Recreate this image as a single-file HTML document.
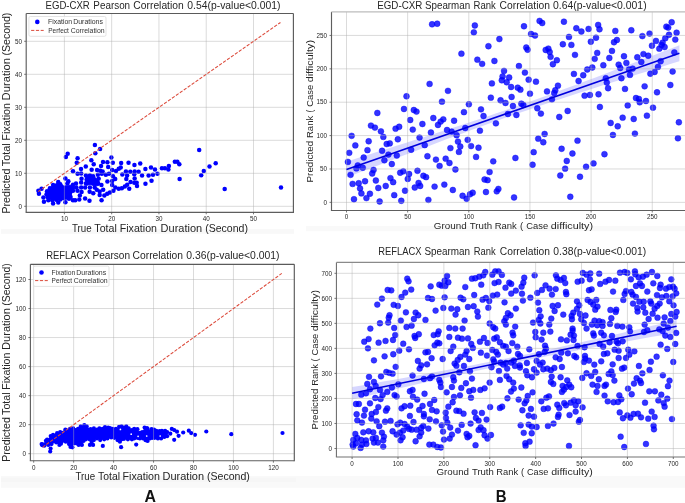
<!DOCTYPE html>
<html><head><meta charset="utf-8"><style>
html,body{margin:0;padding:0;background:#fff;width:685px;height:503px;overflow:hidden}
svg{will-change:transform}
svg text{font-family:"Liberation Sans", sans-serif}
</style></head><body>
<svg width="685" height="503" viewBox="0 0 685 503" style="display:block">
<rect width="685" height="503" fill="#fff"/>
<rect x="1" y="229.2" width="293" height="4.6" fill="#f8f8f8"/>
<rect x="306" y="226" width="379" height="5.2" fill="#f9f9f9"/>
<rect x="1" y="476" width="684" height="11.8" fill="#f9f9f9"/>
<rect x="1" y="477.7" width="295" height="4.3" fill="#f6f6f6"/>
<g>
<rect x="26.2" y="13.5" width="267.2" height="198.8" fill="#fff"/>
</g>
<g>
<rect x="30.4" y="264.3" width="263.9" height="196.4" fill="#fff"/>
</g>
<g>
<rect x="331.5" y="11.9" width="358.5" height="198.6" fill="#fff"/>
</g>
<g>
<rect x="336.45" y="262.4" width="353.55" height="194.6" fill="#fff"/>
</g>
<polygon points="346.5,161.5 354.82,158.91 363.15,156.3 371.47,153.7 379.79,151.09 388.11,148.47 396.44,145.85 404.76,143.22 413.08,140.58 421.4,137.93 429.73,135.27 438.05,132.59 446.37,129.91 454.69,127.2 463.02,124.48 471.34,121.73 479.66,118.96 487.98,116.16 496.31,113.34 504.63,110.48 512.95,107.59 521.27,104.67 529.6,101.71 537.92,98.73 546.24,95.71 554.56,92.67 562.89,89.61 571.21,86.52 579.53,83.41 587.85,80.29 596.18,77.15 604.5,74 612.82,70.84 621.14,67.67 629.47,64.49 637.79,61.3 646.11,58.1 654.43,54.9 662.76,51.7 671.08,48.49 679.4,45.27 679.4,61.27 671.08,63.87 662.76,66.47 654.43,69.08 646.11,71.69 637.79,74.31 629.47,76.93 621.14,79.56 612.82,82.2 604.5,84.85 596.18,87.51 587.85,90.19 579.53,92.87 571.21,95.58 562.89,98.3 554.56,101.05 546.24,103.82 537.92,106.62 529.6,109.44 521.27,112.3 512.95,115.19 504.63,118.11 496.31,121.07 487.98,124.05 479.66,127.06 471.34,130.11 463.02,133.17 454.69,136.26 446.37,139.36 438.05,142.49 429.73,145.63 421.4,148.78 413.08,151.94 404.76,155.11 396.44,158.29 388.11,161.48 379.79,164.68 371.47,167.88 363.15,171.08 354.82,174.29 346.5,177.5" fill="#0000ff" fill-opacity="0.16"/>
<polygon points="352.1,387.11 360.21,385.67 368.33,384.23 376.44,382.78 384.55,381.33 392.66,379.88 400.78,378.42 408.89,376.96 417,375.48 425.11,374 433.23,372.52 441.34,371.02 449.45,369.51 457.56,367.98 465.68,366.45 473.79,364.89 481.9,363.32 490.01,361.73 498.13,360.11 506.24,358.47 514.35,356.81 522.47,355.12 530.58,353.41 538.69,351.68 546.8,349.92 554.92,348.14 563.03,346.35 571.14,344.53 579.25,342.71 587.37,340.87 595.48,339.01 603.59,337.15 611.7,335.28 619.82,333.4 627.93,331.52 636.04,329.63 644.16,327.73 652.27,325.83 660.38,323.93 668.49,322.02 676.61,320.11 676.61,332.51 668.49,333.95 660.38,335.39 652.27,336.84 644.16,338.29 636.04,339.74 627.93,341.2 619.82,342.66 611.7,344.14 603.59,345.62 595.48,347.1 587.37,348.6 579.25,350.11 571.14,351.63 563.03,353.17 554.92,354.73 546.8,356.3 538.69,357.89 530.58,359.51 522.47,361.15 514.35,362.81 506.24,364.5 498.13,366.21 490.01,367.94 481.9,369.7 473.79,371.48 465.68,373.27 457.56,375.09 449.45,376.91 441.34,378.75 433.23,380.61 425.11,382.47 417,384.34 408.89,386.22 400.78,388.1 392.66,389.99 384.55,391.89 376.44,393.79 368.33,395.69 360.21,397.6 352.1,399.51" fill="#0000ff" fill-opacity="0.16"/>
<g fill="#0000ff" fill-opacity="1"><circle cx="65.41" cy="178.59" r="2.25"/><circle cx="58.25" cy="181.93" r="2.25"/><circle cx="68.35" cy="181.13" r="2.25"/><circle cx="53.09" cy="185.11" r="2.25"/><circle cx="60.24" cy="184.31" r="2.25"/><circle cx="67.4" cy="183.52" r="2.25"/><circle cx="72.97" cy="184.71" r="2.25"/><circle cx="49.9" cy="188.29" r="2.25"/><circle cx="54.68" cy="187.5" r="2.25"/><circle cx="58.65" cy="186.7" r="2.25"/><circle cx="61.83" cy="186.7" r="2.25"/><circle cx="65.81" cy="187.5" r="2.25"/><circle cx="69.79" cy="187.5" r="2.25"/><circle cx="72.97" cy="187.5" r="2.25"/><circle cx="38.37" cy="190.83" r="2.25"/><circle cx="41.55" cy="188.69" r="2.25"/><circle cx="47.04" cy="191.31" r="2.25"/><circle cx="49.9" cy="191.47" r="2.25"/><circle cx="53.88" cy="190.68" r="2.25"/><circle cx="57.86" cy="190.68" r="2.25"/><circle cx="61.83" cy="190.68" r="2.25"/><circle cx="65.81" cy="190.68" r="2.25"/><circle cx="69.79" cy="190.68" r="2.25"/><circle cx="72.97" cy="190.68" r="2.25"/><circle cx="38.93" cy="193.86" r="2.25"/><circle cx="46.56" cy="194.25" r="2.25"/><circle cx="49.11" cy="193.86" r="2.25"/><circle cx="53.09" cy="193.86" r="2.25"/><circle cx="57.06" cy="193.86" r="2.25"/><circle cx="61.04" cy="193.86" r="2.25"/><circle cx="65.81" cy="194.65" r="2.25"/><circle cx="69.79" cy="193.86" r="2.25"/><circle cx="43.38" cy="197.44" r="2.25"/><circle cx="47.52" cy="197.04" r="2.25"/><circle cx="51.5" cy="197.04" r="2.25"/><circle cx="55.47" cy="197.04" r="2.25"/><circle cx="59.45" cy="197.04" r="2.25"/><circle cx="63.42" cy="197.04" r="2.25"/><circle cx="67.4" cy="197.04" r="2.25"/><circle cx="70.58" cy="197.04" r="2.25"/><circle cx="48.31" cy="200.22" r="2.25"/><circle cx="52.29" cy="200.22" r="2.25"/><circle cx="56.27" cy="199.82" r="2.25"/><circle cx="60.24" cy="199.42" r="2.25"/><circle cx="68.99" cy="198.63" r="2.25"/><circle cx="72.97" cy="200.22" r="2.25"/><circle cx="43.94" cy="201.81" r="2.25"/><circle cx="53.09" cy="203.4" r="2.25"/><circle cx="58.25" cy="202.6" r="2.25"/><circle cx="65.41" cy="202.21" r="2.25"/><circle cx="77.58" cy="158.35" r="2.25"/><circle cx="76.78" cy="162.72" r="2.25"/><circle cx="95.31" cy="153.34" r="2.25"/><circle cx="91.34" cy="160.18" r="2.25"/><circle cx="93.72" cy="164.31" r="2.25"/><circle cx="85.77" cy="166.54" r="2.25"/><circle cx="81" cy="168.93" r="2.25"/><circle cx="91.65" cy="169.72" r="2.25"/><circle cx="103.03" cy="161.93" r="2.25"/><circle cx="107.4" cy="162.33" r="2.25"/><circle cx="111.38" cy="157.55" r="2.25"/><circle cx="101.04" cy="165.9" r="2.25"/><circle cx="108.19" cy="167.1" r="2.25"/><circle cx="97.06" cy="169.88" r="2.25"/><circle cx="100.24" cy="170.68" r="2.25"/><circle cx="102.63" cy="171.47" r="2.25"/><circle cx="112.17" cy="169.88" r="2.25"/><circle cx="77.58" cy="173.86" r="2.25"/><circle cx="81.16" cy="173.46" r="2.25"/><circle cx="85.93" cy="175.45" r="2.25"/><circle cx="89.9" cy="175.45" r="2.25"/><circle cx="93.09" cy="176.24" r="2.25"/><circle cx="97.86" cy="174.65" r="2.25"/><circle cx="101.83" cy="173.86" r="2.25"/><circle cx="105.81" cy="174.65" r="2.25"/><circle cx="108.99" cy="173.86" r="2.25"/><circle cx="112.97" cy="176.24" r="2.25"/><circle cx="81.55" cy="178.63" r="2.25"/><circle cx="86.72" cy="179.42" r="2.25"/><circle cx="90.7" cy="178.63" r="2.25"/><circle cx="94.68" cy="179.42" r="2.25"/><circle cx="98.65" cy="178.63" r="2.25"/><circle cx="75.99" cy="183.4" r="2.25"/><circle cx="81.16" cy="182.6" r="2.25"/><circle cx="85.93" cy="183.4" r="2.25"/><circle cx="89.9" cy="182.6" r="2.25"/><circle cx="93.88" cy="183.4" r="2.25"/><circle cx="97.86" cy="183.4" r="2.25"/><circle cx="101.44" cy="184.99" r="2.25"/><circle cx="107.4" cy="181.41" r="2.25"/><circle cx="112.17" cy="181.01" r="2.25"/><circle cx="76.39" cy="187.38" r="2.25"/><circle cx="81.16" cy="187.38" r="2.25"/><circle cx="85.13" cy="187.38" r="2.25"/><circle cx="89.9" cy="187.38" r="2.25"/><circle cx="94.68" cy="187.38" r="2.25"/><circle cx="112.17" cy="184.99" r="2.25"/><circle cx="77.5" cy="190.84" r="2.25"/><circle cx="81.59" cy="192.01" r="2.25"/><circle cx="79.84" cy="195.51" r="2.25"/><circle cx="75.17" cy="200.18" r="2.25"/><circle cx="79.26" cy="199.6" r="2.25"/><circle cx="85.09" cy="198.43" r="2.25"/><circle cx="89.47" cy="200.77" r="2.25"/><circle cx="89.65" cy="191.72" r="2.25"/><circle cx="93.27" cy="193.18" r="2.25"/><circle cx="96.77" cy="189.67" r="2.25"/><circle cx="99.69" cy="191.42" r="2.25"/><circle cx="103.2" cy="189.67" r="2.25"/><circle cx="99.69" cy="194.93" r="2.25"/><circle cx="104.36" cy="195.51" r="2.25"/><circle cx="107.28" cy="193.76" r="2.25"/><circle cx="109.91" cy="192.59" r="2.25"/><circle cx="113.42" cy="190.84" r="2.25"/><circle cx="101.56" cy="200.3" r="2.25"/><circle cx="112.8" cy="162.66" r="2.25"/><circle cx="121.15" cy="162.9" r="2.25"/><circle cx="128.54" cy="162.66" r="2.25"/><circle cx="134.43" cy="165.05" r="2.25"/><circle cx="140.23" cy="163.46" r="2.25"/><circle cx="145.4" cy="169.03" r="2.25"/><circle cx="150.97" cy="167.44" r="2.25"/><circle cx="120.75" cy="167.44" r="2.25"/><circle cx="118.76" cy="168.63" r="2.25"/><circle cx="115.98" cy="171.01" r="2.25"/><circle cx="125.92" cy="171.41" r="2.25"/><circle cx="130.29" cy="171.81" r="2.25"/><circle cx="134.66" cy="171.41" r="2.25"/><circle cx="138.64" cy="171.81" r="2.25"/><circle cx="122.34" cy="174.59" r="2.25"/><circle cx="127.11" cy="175.39" r="2.25"/><circle cx="134.27" cy="174.19" r="2.25"/><circle cx="142.06" cy="175.39" r="2.25"/><circle cx="148.58" cy="175.39" r="2.25"/><circle cx="115.18" cy="178.97" r="2.25"/><circle cx="126.31" cy="178.97" r="2.25"/><circle cx="134.66" cy="178.57" r="2.25"/><circle cx="115.38" cy="187.46" r="2.25"/><circle cx="118.76" cy="188.81" r="2.25"/><circle cx="121.8" cy="188.14" r="2.25"/><circle cx="124.84" cy="186.45" r="2.25"/><circle cx="127.2" cy="184.76" r="2.25"/><circle cx="129.23" cy="188.81" r="2.25"/><circle cx="130.58" cy="182.05" r="2.25"/><circle cx="134.3" cy="182.73" r="2.25"/><circle cx="136.66" cy="182.73" r="2.25"/><circle cx="137" cy="186.11" r="2.25"/><circle cx="145.45" cy="183.74" r="2.25"/><circle cx="151.53" cy="180.7" r="2.25"/><circle cx="154.97" cy="169.62" r="2.25"/><circle cx="157.46" cy="173.8" r="2.25"/><circle cx="152.98" cy="174.79" r="2.25"/><circle cx="161.93" cy="168.33" r="2.25"/><circle cx="164.91" cy="168.33" r="2.25"/><circle cx="168.89" cy="166.04" r="2.25"/><circle cx="168.39" cy="169.62" r="2.25"/><circle cx="174.85" cy="161.67" r="2.25"/><circle cx="177.34" cy="161.67" r="2.25"/><circle cx="179.32" cy="164.35" r="2.25"/><circle cx="179.62" cy="178.97" r="2.25"/><circle cx="199.2" cy="149.9" r="2.25"/><circle cx="215.7" cy="163.3" r="2.25"/><circle cx="209.5" cy="166.6" r="2.25"/><circle cx="203.8" cy="171" r="2.25"/><circle cx="201.2" cy="175.3" r="2.25"/><circle cx="224.7" cy="188.9" r="2.25"/><circle cx="281" cy="187.4" r="2.25"/><circle cx="94.9" cy="144.9" r="2.25"/><circle cx="100.1" cy="148.9" r="2.25"/><circle cx="67.7" cy="153.7" r="2.25"/><circle cx="65.9" cy="157.1" r="2.25"/><circle cx="73" cy="171.2" r="2.25"/></g>
<polygon points="46.5,192 49.3,187.8 52.8,185.4 57.5,182.5 61.6,184.3 63.9,186.6 68,185.4 72.1,184.9 73.9,188.4 71.5,194.2 69.2,198.9 63.4,200 57.5,200 51.7,200 47,198.9 46.5,195.4" fill="#0000ff" stroke="#0000ff" stroke-width="0.6" stroke-linejoin="round"/>
<polygon points="85.5,176 88.7,175.5 92.5,176 95.5,178 97.5,179.5 99.5,181.5 100.2,184 98.5,185.5 95.5,186 93,185.5 90,184.5 86.5,185.5 85.2,184 85.3,180" fill="#0000ff" stroke="#0000ff" stroke-width="0.6" stroke-linejoin="round"/>
<polygon points="42.2,445.2 42.7,444.3 45.9,440.8 47.1,439.6 50.7,436 53.1,434.8 57.1,433.2 60.2,432 65.4,429.6 69,430.4 70,428.8 73.2,428.4 75.6,430 78,428.8 80.7,426.4 84.3,425.2 86.7,426.4 88.3,429.6 90.7,429.2 93.9,428.4 97,429.6 99.4,428.4 102.6,428.8 105,427.2 108.2,427.6 110,428 112.8,428.8 116,428.8 119.1,426.8 121.5,426.4 123.9,427.6 126.3,426.4 128.7,428.4 131.9,430 134.2,428.8 137.4,429.2 139.8,432.8 142.2,432 144.6,427.6 147,428 147.6,428.8 149.2,431.6 151.6,429.2 154,429.6 156.3,430.8 159.5,431.2 161.9,430.8 165.1,430.8 167.1,432 165.7,433.3 167.1,436.2 164.3,437 161.1,438.5 157.9,438.5 154.7,437.8 152.4,437.8 150,438.5 147.6,440.9 146,440.1 145.4,440.1 143,438.5 139.8,438.5 137.4,437.8 134.2,438.5 131.9,439.3 127.9,439.3 123.9,438.9 121.5,439.3 119.9,441.7 117.5,440.1 114.4,437.8 111.2,437.4 108,437 107.4,438.5 104.2,439.3 100.2,440.1 97,438.5 93.9,440.1 93.1,444.9 89.9,444.9 89.5,439.3 85.9,439.3 83.5,440.9 81.9,444.9 78.7,444.9 76.4,443.3 74,443.3 72.4,447.3 70.5,446.9 69,444.1 65.8,441.7 61,443.7 59.4,444.9 56.3,442.5 51.5,444.1 48.3,444.9 44.3,445.7 41.6,444.1" fill="#0000ff"/>
<g fill="#0000ff"><circle cx="42.2" cy="445.2" r="2.1"/><circle cx="42.7" cy="444.3" r="2.1"/><circle cx="45.9" cy="440.8" r="2.1"/><circle cx="47.1" cy="439.6" r="2.1"/><circle cx="50.7" cy="436" r="2.1"/><circle cx="53.1" cy="434.8" r="2.1"/><circle cx="57.1" cy="433.2" r="2.1"/><circle cx="60.2" cy="432" r="2.1"/><circle cx="65.4" cy="429.6" r="2.1"/><circle cx="69" cy="430.4" r="2.1"/><circle cx="70" cy="428.8" r="2.1"/><circle cx="73.2" cy="428.4" r="2.1"/><circle cx="75.6" cy="430" r="2.1"/><circle cx="78" cy="428.8" r="2.1"/><circle cx="80.7" cy="426.4" r="2.1"/><circle cx="84.3" cy="425.2" r="2.1"/><circle cx="86.7" cy="426.4" r="2.1"/><circle cx="88.3" cy="429.6" r="2.1"/><circle cx="90.7" cy="429.2" r="2.1"/><circle cx="93.9" cy="428.4" r="2.1"/><circle cx="97" cy="429.6" r="2.1"/><circle cx="99.4" cy="428.4" r="2.1"/><circle cx="102.6" cy="428.8" r="2.1"/><circle cx="105" cy="427.2" r="2.1"/><circle cx="108.2" cy="427.6" r="2.1"/><circle cx="110" cy="428" r="2.1"/><circle cx="112.8" cy="428.8" r="2.1"/><circle cx="116" cy="428.8" r="2.1"/><circle cx="119.1" cy="426.8" r="2.1"/><circle cx="121.5" cy="426.4" r="2.1"/><circle cx="123.9" cy="427.6" r="2.1"/><circle cx="126.3" cy="426.4" r="2.1"/><circle cx="128.7" cy="428.4" r="2.1"/><circle cx="131.9" cy="430" r="2.1"/><circle cx="134.2" cy="428.8" r="2.1"/><circle cx="137.4" cy="429.2" r="2.1"/><circle cx="139.8" cy="432.8" r="2.1"/><circle cx="142.2" cy="432" r="2.1"/><circle cx="144.6" cy="427.6" r="2.1"/><circle cx="147" cy="428" r="2.1"/><circle cx="147.6" cy="428.8" r="2.1"/><circle cx="149.2" cy="431.6" r="2.1"/><circle cx="151.6" cy="429.2" r="2.1"/><circle cx="154" cy="429.6" r="2.1"/><circle cx="156.3" cy="430.8" r="2.1"/><circle cx="159.5" cy="431.2" r="2.1"/><circle cx="161.9" cy="430.8" r="2.1"/><circle cx="165.1" cy="430.8" r="2.1"/><circle cx="167.1" cy="432" r="2.1"/><circle cx="165.7" cy="433.3" r="2.1"/><circle cx="167.1" cy="436.2" r="2.1"/><circle cx="164.3" cy="437" r="2.1"/><circle cx="161.1" cy="438.5" r="2.1"/><circle cx="157.9" cy="438.5" r="2.1"/><circle cx="154.7" cy="437.8" r="2.1"/><circle cx="152.4" cy="437.8" r="2.1"/><circle cx="150" cy="438.5" r="2.1"/><circle cx="147.6" cy="440.9" r="2.1"/><circle cx="146" cy="440.1" r="2.1"/><circle cx="145.4" cy="440.1" r="2.1"/><circle cx="143" cy="438.5" r="2.1"/><circle cx="139.8" cy="438.5" r="2.1"/><circle cx="137.4" cy="437.8" r="2.1"/><circle cx="134.2" cy="438.5" r="2.1"/><circle cx="131.9" cy="439.3" r="2.1"/><circle cx="127.9" cy="439.3" r="2.1"/><circle cx="123.9" cy="438.9" r="2.1"/><circle cx="121.5" cy="439.3" r="2.1"/><circle cx="119.9" cy="441.7" r="2.1"/><circle cx="117.5" cy="440.1" r="2.1"/><circle cx="114.4" cy="437.8" r="2.1"/><circle cx="111.2" cy="437.4" r="2.1"/><circle cx="108" cy="437" r="2.1"/><circle cx="107.4" cy="438.5" r="2.1"/><circle cx="104.2" cy="439.3" r="2.1"/><circle cx="100.2" cy="440.1" r="2.1"/><circle cx="97" cy="438.5" r="2.1"/><circle cx="93.9" cy="440.1" r="2.1"/><circle cx="93.1" cy="444.9" r="2.1"/><circle cx="89.9" cy="444.9" r="2.1"/><circle cx="89.5" cy="439.3" r="2.1"/><circle cx="85.9" cy="439.3" r="2.1"/><circle cx="83.5" cy="440.9" r="2.1"/><circle cx="81.9" cy="444.9" r="2.1"/><circle cx="78.7" cy="444.9" r="2.1"/><circle cx="76.4" cy="443.3" r="2.1"/><circle cx="74" cy="443.3" r="2.1"/><circle cx="72.4" cy="447.3" r="2.1"/><circle cx="70.5" cy="446.9" r="2.1"/><circle cx="69" cy="444.1" r="2.1"/><circle cx="65.8" cy="441.7" r="2.1"/><circle cx="61" cy="443.7" r="2.1"/><circle cx="59.4" cy="444.9" r="2.1"/><circle cx="56.3" cy="442.5" r="2.1"/><circle cx="51.5" cy="444.1" r="2.1"/><circle cx="48.3" cy="444.9" r="2.1"/><circle cx="44.3" cy="445.7" r="2.1"/><circle cx="41.6" cy="444.1" r="2.1"/></g>
<g fill="#fff"><circle cx="120.4" cy="429.4" r="0.85"/><circle cx="131.2" cy="434.2" r="0.85"/><circle cx="138.1" cy="436.3" r="0.85"/><circle cx="146.7" cy="436" r="0.85"/><circle cx="160.2" cy="436" r="0.85"/></g>
<g fill="#0000ff"><circle cx="50.6" cy="448.6" r="2.1"/><circle cx="50.2" cy="451.6" r="2.1"/><circle cx="102.8" cy="445.9" r="2.1"/><circle cx="121.1" cy="447.2" r="2.1"/><circle cx="136.2" cy="444.6" r="2.1"/><circle cx="170.3" cy="433.7" r="2.1"/><circle cx="171.8" cy="428.9" r="2.1"/><circle cx="174.2" cy="430.1" r="2.1"/><circle cx="177" cy="431.7" r="2.1"/><circle cx="178.6" cy="435.8" r="2.1"/><circle cx="174.2" cy="439.8" r="2.1"/><circle cx="183.2" cy="432.5" r="2.1"/><circle cx="188.8" cy="430.7" r="2.1"/><circle cx="191.2" cy="433.1" r="2.1"/><circle cx="195" cy="434.8" r="2.1"/><circle cx="206.3" cy="431.5" r="2.1"/><circle cx="231.3" cy="434.2" r="2.1"/><circle cx="282.5" cy="433" r="2.1"/></g>
<g fill="#0000ff" fill-opacity="1"></g>
<g fill="#0000ff" fill-opacity="0.8" stroke="#0000ff" stroke-opacity="0.8" stroke-width="0.5"><circle cx="432.08" cy="24.31" r="2.95"/><circle cx="437.19" cy="23.72" r="2.95"/><circle cx="474.85" cy="25.47" r="2.95"/><circle cx="473.83" cy="32.34" r="2.95"/><circle cx="499.38" cy="39.05" r="2.95"/><circle cx="488.43" cy="46.2" r="2.95"/><circle cx="461.42" cy="53.65" r="2.95"/><circle cx="477.34" cy="59.64" r="2.95"/><circle cx="482.15" cy="63.87" r="2.95"/><circle cx="494.42" cy="60.95" r="2.95"/><circle cx="504.05" cy="70.88" r="2.95"/><circle cx="502.59" cy="76.42" r="2.95"/><circle cx="509.16" cy="77.45" r="2.95"/><circle cx="523.98" cy="26.25" r="2.95"/><circle cx="539.56" cy="20.92" r="2.95"/><circle cx="542.22" cy="23.05" r="2.95"/><circle cx="563.93" cy="21.72" r="2.95"/><circle cx="576.31" cy="28.24" r="2.95"/><circle cx="581.37" cy="31.57" r="2.95"/><circle cx="588.56" cy="28.91" r="2.95"/><circle cx="598.15" cy="24.91" r="2.95"/><circle cx="599.48" cy="29.31" r="2.95"/><circle cx="531.04" cy="33.97" r="2.95"/><circle cx="535.03" cy="35.57" r="2.95"/><circle cx="568.99" cy="36.9" r="2.95"/><circle cx="562.86" cy="44.22" r="2.95"/><circle cx="571.38" cy="44.89" r="2.95"/><circle cx="590.83" cy="41.69" r="2.95"/><circle cx="596.02" cy="37.7" r="2.95"/><circle cx="526.25" cy="47.55" r="2.95"/><circle cx="527.58" cy="49.68" r="2.95"/><circle cx="545.69" cy="49.95" r="2.95"/><circle cx="548.35" cy="48.62" r="2.95"/><circle cx="549.68" cy="51.94" r="2.95"/><circle cx="550.61" cy="56.87" r="2.95"/><circle cx="556.87" cy="60.2" r="2.95"/><circle cx="552.88" cy="64.19" r="2.95"/><circle cx="574.98" cy="54.87" r="2.95"/><circle cx="597.22" cy="52.88" r="2.95"/><circle cx="594.69" cy="58.87" r="2.95"/><circle cx="518.92" cy="66.06" r="2.95"/><circle cx="524.91" cy="72.58" r="2.95"/><circle cx="587.23" cy="69.52" r="2.95"/><circle cx="592.29" cy="67.52" r="2.95"/><circle cx="573.91" cy="73.91" r="2.95"/><circle cx="583.24" cy="75.25" r="2.95"/><circle cx="615.32" cy="30.92" r="2.95"/><circle cx="631.31" cy="30.25" r="2.95"/><circle cx="642.37" cy="36.11" r="2.95"/><circle cx="649.56" cy="33.58" r="2.95"/><circle cx="671.68" cy="22.26" r="2.95"/><circle cx="666.35" cy="26.65" r="2.95"/><circle cx="668.21" cy="27.59" r="2.95"/><circle cx="676.61" cy="32.65" r="2.95"/><circle cx="669.01" cy="34.78" r="2.95"/><circle cx="665.28" cy="38.24" r="2.95"/><circle cx="675.27" cy="39.58" r="2.95"/><circle cx="655.96" cy="40.91" r="2.95"/><circle cx="662.62" cy="42.64" r="2.95"/><circle cx="661.55" cy="44.91" r="2.95"/><circle cx="659.29" cy="48.64" r="2.95"/><circle cx="664.61" cy="47.04" r="2.95"/><circle cx="651.96" cy="45.7" r="2.95"/><circle cx="616.92" cy="39.98" r="2.95"/><circle cx="613.99" cy="42.24" r="2.95"/><circle cx="611.99" cy="50.9" r="2.95"/><circle cx="609.33" cy="57.96" r="2.95"/><circle cx="623.98" cy="56.23" r="2.95"/><circle cx="626.38" cy="62.89" r="2.95"/><circle cx="603.33" cy="65.29" r="2.95"/><circle cx="618.65" cy="64.62" r="2.95"/><circle cx="620.25" cy="67.95" r="2.95"/><circle cx="637.3" cy="57.3" r="2.95"/><circle cx="641.3" cy="61.96" r="2.95"/><circle cx="643.43" cy="54.1" r="2.95"/><circle cx="648.23" cy="55.7" r="2.95"/><circle cx="674.34" cy="52.37" r="2.95"/><circle cx="660.62" cy="61.29" r="2.95"/><circle cx="657.95" cy="66.89" r="2.95"/><circle cx="629.04" cy="69.55" r="2.95"/><circle cx="632.64" cy="68.62" r="2.95"/><circle cx="629.98" cy="74.88" r="2.95"/><circle cx="654.62" cy="71.95" r="2.95"/><circle cx="650.36" cy="73.68" r="2.95"/><circle cx="672.61" cy="71.55" r="2.95"/><circle cx="406.5" cy="96.31" r="2.95"/><circle cx="377.34" cy="112.95" r="2.95"/><circle cx="403.97" cy="108.96" r="2.95"/><circle cx="413.82" cy="110.02" r="2.95"/><circle cx="416.49" cy="111.62" r="2.95"/><circle cx="410.23" cy="120.01" r="2.95"/><circle cx="370.95" cy="125.6" r="2.95"/><circle cx="374.94" cy="127.6" r="2.95"/><circle cx="380.93" cy="131.33" r="2.95"/><circle cx="383.33" cy="136.92" r="2.95"/><circle cx="395.58" cy="128.66" r="2.95"/><circle cx="399.18" cy="126.8" r="2.95"/><circle cx="412.76" cy="129.6" r="2.95"/><circle cx="351.64" cy="135.85" r="2.95"/><circle cx="368.68" cy="141.31" r="2.95"/><circle cx="397.84" cy="139.32" r="2.95"/><circle cx="419.55" cy="137.59" r="2.95"/><circle cx="429.59" cy="83.92" r="2.95"/><circle cx="447.96" cy="90.85" r="2.95"/><circle cx="441.97" cy="101.63" r="2.95"/><circle cx="468.87" cy="104.3" r="2.95"/><circle cx="491.9" cy="83.39" r="2.95"/><circle cx="490.84" cy="97.64" r="2.95"/><circle cx="500.56" cy="100.3" r="2.95"/><circle cx="505.49" cy="102.97" r="2.95"/><circle cx="463.94" cy="112.15" r="2.95"/><circle cx="480.99" cy="109.36" r="2.95"/><circle cx="483.52" cy="116.01" r="2.95"/><circle cx="507.88" cy="114.02" r="2.95"/><circle cx="433.32" cy="118.01" r="2.95"/><circle cx="443.3" cy="119.34" r="2.95"/><circle cx="440.64" cy="121.61" r="2.95"/><circle cx="437.98" cy="124.94" r="2.95"/><circle cx="422.4" cy="124" r="2.95"/><circle cx="454.09" cy="120.68" r="2.95"/><circle cx="495.9" cy="123.34" r="2.95"/><circle cx="447.03" cy="130" r="2.95"/><circle cx="451.69" cy="131.59" r="2.95"/><circle cx="456.62" cy="135.19" r="2.95"/><circle cx="465.27" cy="128" r="2.95"/><circle cx="479.92" cy="130.66" r="2.95"/><circle cx="430.92" cy="132.53" r="2.95"/><circle cx="467.67" cy="139.85" r="2.95"/><circle cx="457.95" cy="141.58" r="2.95"/><circle cx="501.8" cy="80.3" r="2.95"/><circle cx="506.7" cy="82.3" r="2.95"/><circle cx="528.64" cy="79.66" r="2.95"/><circle cx="535.97" cy="81.66" r="2.95"/><circle cx="511.07" cy="86.99" r="2.95"/><circle cx="517.72" cy="87.65" r="2.95"/><circle cx="520.39" cy="89.65" r="2.95"/><circle cx="529.97" cy="93.64" r="2.95"/><circle cx="511.6" cy="96.97" r="2.95"/><circle cx="547.02" cy="91.38" r="2.95"/><circle cx="557.94" cy="85.66" r="2.95"/><circle cx="555.27" cy="90.32" r="2.95"/><circle cx="554.21" cy="92.98" r="2.95"/><circle cx="551.94" cy="99.37" r="2.95"/><circle cx="578.58" cy="80.99" r="2.95"/><circle cx="584.57" cy="95.64" r="2.95"/><circle cx="589.89" cy="94.98" r="2.95"/><circle cx="598.55" cy="94.31" r="2.95"/><circle cx="521.32" cy="103.63" r="2.95"/><circle cx="523.32" cy="104.96" r="2.95"/><circle cx="512.93" cy="106.03" r="2.95"/><circle cx="516.39" cy="114.95" r="2.95"/><circle cx="537.3" cy="108.29" r="2.95"/><circle cx="540.89" cy="113.62" r="2.95"/><circle cx="559.27" cy="116.95" r="2.95"/><circle cx="567.66" cy="110.95" r="2.95"/><circle cx="599.88" cy="106.96" r="2.95"/><circle cx="544.62" cy="133.99" r="2.95"/><circle cx="538.23" cy="138.65" r="2.95"/><circle cx="543.29" cy="142.25" r="2.95"/><circle cx="577.51" cy="140.65" r="2.95"/><circle cx="605.8" cy="78.2" r="2.95"/><circle cx="606.8" cy="82.6" r="2.95"/><circle cx="608.1" cy="88.2" r="2.95"/><circle cx="621.4" cy="78.2" r="2.95"/><circle cx="625" cy="88.9" r="2.95"/><circle cx="644.63" cy="86.33" r="2.95"/><circle cx="670.34" cy="84.99" r="2.95"/><circle cx="657.02" cy="92.32" r="2.95"/><circle cx="635.97" cy="98.05" r="2.95"/><circle cx="638.9" cy="98.98" r="2.95"/><circle cx="639.7" cy="102.31" r="2.95"/><circle cx="645.96" cy="100.98" r="2.95"/><circle cx="653.02" cy="107.64" r="2.95"/><circle cx="627.71" cy="105.38" r="2.95"/><circle cx="622.65" cy="117.63" r="2.95"/><circle cx="633.71" cy="118.97" r="2.95"/><circle cx="646.9" cy="115.64" r="2.95"/><circle cx="610.66" cy="122.96" r="2.95"/><circle cx="617.72" cy="126.29" r="2.95"/><circle cx="612.92" cy="134.95" r="2.95"/><circle cx="634.91" cy="133.62" r="2.95"/><circle cx="678.87" cy="122.3" r="2.95"/><circle cx="677.94" cy="138.28" r="2.95"/><circle cx="355.32" cy="145.41" r="2.95"/><circle cx="349.24" cy="152.84" r="2.95"/><circle cx="367.49" cy="150.14" r="2.95"/><circle cx="382.08" cy="150.81" r="2.95"/><circle cx="386.68" cy="144.05" r="2.95"/><circle cx="389.78" cy="143.38" r="2.95"/><circle cx="411.14" cy="149.73" r="2.95"/><circle cx="363.7" cy="157.57" r="2.95"/><circle cx="347.89" cy="161.89" r="2.95"/><circle cx="388.43" cy="154.59" r="2.95"/><circle cx="396.81" cy="155.54" r="2.95"/><circle cx="384.38" cy="160.27" r="2.95"/><circle cx="391.81" cy="164.05" r="2.95"/><circle cx="357.76" cy="165.41" r="2.95"/><circle cx="356.41" cy="168.38" r="2.95"/><circle cx="362.76" cy="167.7" r="2.95"/><circle cx="350.59" cy="174.86" r="2.95"/><circle cx="373.57" cy="170" r="2.95"/><circle cx="372.22" cy="173.51" r="2.95"/><circle cx="400.19" cy="172.7" r="2.95"/><circle cx="403.3" cy="171.35" r="2.95"/><circle cx="409.11" cy="174.05" r="2.95"/><circle cx="407.76" cy="178.92" r="2.95"/><circle cx="417.49" cy="170.81" r="2.95"/><circle cx="352.62" cy="183.92" r="2.95"/><circle cx="358.7" cy="183.24" r="2.95"/><circle cx="365.05" cy="181.22" r="2.95"/><circle cx="360.05" cy="188.38" r="2.95"/><circle cx="361.41" cy="193.38" r="2.95"/><circle cx="369.92" cy="193.78" r="2.95"/><circle cx="366.41" cy="198.11" r="2.95"/><circle cx="353.97" cy="199.19" r="2.95"/><circle cx="375.86" cy="180.54" r="2.95"/><circle cx="378.3" cy="187.97" r="2.95"/><circle cx="385.73" cy="185.95" r="2.95"/><circle cx="390.46" cy="178.11" r="2.95"/><circle cx="393.16" cy="182.16" r="2.95"/><circle cx="394.24" cy="195.14" r="2.95"/><circle cx="405.05" cy="190.68" r="2.95"/><circle cx="414.78" cy="187.57" r="2.95"/><circle cx="418.57" cy="182.97" r="2.95"/><circle cx="420.19" cy="185.95" r="2.95"/><circle cx="401.27" cy="200.81" r="2.95"/><circle cx="379.65" cy="201.49" r="2.95"/><circle cx="424.73" cy="145.14" r="2.95"/><circle cx="450.41" cy="148.11" r="2.95"/><circle cx="460.27" cy="146.49" r="2.95"/><circle cx="458.92" cy="151.89" r="2.95"/><circle cx="471.08" cy="146.08" r="2.95"/><circle cx="478.51" cy="147.7" r="2.95"/><circle cx="476.08" cy="156.89" r="2.95"/><circle cx="427.43" cy="156.22" r="2.95"/><circle cx="435.95" cy="159.59" r="2.95"/><circle cx="445.68" cy="158.65" r="2.95"/><circle cx="449.46" cy="162.97" r="2.95"/><circle cx="439.59" cy="165.95" r="2.95"/><circle cx="455.41" cy="169.46" r="2.95"/><circle cx="493.24" cy="161.35" r="2.95"/><circle cx="489.59" cy="172.03" r="2.95"/><circle cx="484.59" cy="179.46" r="2.95"/><circle cx="487.57" cy="180.14" r="2.95"/><circle cx="423.38" cy="175.81" r="2.95"/><circle cx="426.08" cy="177.16" r="2.95"/><circle cx="434.59" cy="186.62" r="2.95"/><circle cx="444.32" cy="184.59" r="2.95"/><circle cx="452.84" cy="190" r="2.95"/><circle cx="462.57" cy="195.81" r="2.95"/><circle cx="466.62" cy="198.78" r="2.95"/><circle cx="470" cy="194.32" r="2.95"/><circle cx="472.7" cy="192.7" r="2.95"/><circle cx="485.95" cy="192.03" r="2.95"/><circle cx="496.76" cy="191.35" r="2.95"/><circle cx="498.38" cy="188.92" r="2.95"/><circle cx="428.38" cy="199.86" r="2.95"/><circle cx="515.41" cy="157.97" r="2.95"/><circle cx="533.65" cy="152.16" r="2.95"/><circle cx="532.57" cy="164.73" r="2.95"/><circle cx="561.62" cy="148.78" r="2.95"/><circle cx="572.43" cy="153.51" r="2.95"/><circle cx="566.76" cy="160.95" r="2.95"/><circle cx="565.14" cy="168.65" r="2.95"/><circle cx="560.27" cy="175.54" r="2.95"/><circle cx="580" cy="176.76" r="2.95"/><circle cx="586.08" cy="166.76" r="2.95"/><circle cx="593.51" cy="163.38" r="2.95"/><circle cx="514.05" cy="197.43" r="2.95"/><circle cx="570.27" cy="196.76" r="2.95"/><circle cx="604.46" cy="154.19" r="2.95"/></g>
<g fill="#0000ff" fill-opacity="0.8" stroke="#0000ff" stroke-opacity="0.8" stroke-width="0.5"><circle cx="407.23" cy="278.64" r="2.9"/><circle cx="408.56" cy="281.31" r="2.9"/><circle cx="387.66" cy="289.96" r="2.9"/><circle cx="391.25" cy="290.36" r="2.9"/><circle cx="411.22" cy="289.56" r="2.9"/><circle cx="405.23" cy="292.62" r="2.9"/><circle cx="401.5" cy="297.02" r="2.9"/><circle cx="381.93" cy="298.61" r="2.9"/><circle cx="377.27" cy="304.6" r="2.9"/><circle cx="393.65" cy="304.87" r="2.9"/><circle cx="397.91" cy="305.94" r="2.9"/><circle cx="405.9" cy="312.33" r="2.9"/><circle cx="415.62" cy="312.59" r="2.9"/><circle cx="418.28" cy="315.26" r="2.9"/><circle cx="389.52" cy="315.26" r="2.9"/><circle cx="388.72" cy="317.65" r="2.9"/><circle cx="413.89" cy="318.98" r="2.9"/><circle cx="425.47" cy="319.92" r="2.9"/><circle cx="379.94" cy="323.24" r="2.9"/><circle cx="388.19" cy="322.58" r="2.9"/><circle cx="400.84" cy="320.58" r="2.9"/><circle cx="370.35" cy="328.57" r="2.9"/><circle cx="394.18" cy="327.9" r="2.9"/><circle cx="406.56" cy="326.97" r="2.9"/><circle cx="411.62" cy="325.64" r="2.9"/><circle cx="447.04" cy="275.98" r="2.9"/><circle cx="444.64" cy="280.64" r="2.9"/><circle cx="448.37" cy="282.24" r="2.9"/><circle cx="439.31" cy="284.63" r="2.9"/><circle cx="441.71" cy="285.7" r="2.9"/><circle cx="445.31" cy="285.96" r="2.9"/><circle cx="430.66" cy="286.36" r="2.9"/><circle cx="465.28" cy="287.03" r="2.9"/><circle cx="471.93" cy="278.64" r="2.9"/><circle cx="475.26" cy="278.24" r="2.9"/><circle cx="479.26" cy="276.65" r="2.9"/><circle cx="483.25" cy="275.31" r="2.9"/><circle cx="485.25" cy="271.99" r="2.9"/><circle cx="481.25" cy="284.63" r="2.9"/><circle cx="492.3" cy="274.65" r="2.9"/><circle cx="495.23" cy="271.32" r="2.9"/><circle cx="498.56" cy="271.32" r="2.9"/><circle cx="501.89" cy="274.91" r="2.9"/><circle cx="494.57" cy="283.04" r="2.9"/><circle cx="498.56" cy="281.97" r="2.9"/><circle cx="509.21" cy="282.64" r="2.9"/><circle cx="511.21" cy="283.97" r="2.9"/><circle cx="505.48" cy="287.7" r="2.9"/><circle cx="511.21" cy="293.55" r="2.9"/><circle cx="515.87" cy="290.62" r="2.9"/><circle cx="474.2" cy="295.02" r="2.9"/><circle cx="492.84" cy="295.55" r="2.9"/><circle cx="497.23" cy="294.62" r="2.9"/><circle cx="444.64" cy="297.28" r="2.9"/><circle cx="428" cy="297.95" r="2.9"/><circle cx="431.99" cy="299.01" r="2.9"/><circle cx="460.62" cy="297.68" r="2.9"/><circle cx="463.28" cy="299.28" r="2.9"/><circle cx="482.58" cy="299.68" r="2.9"/><circle cx="485.91" cy="297.95" r="2.9"/><circle cx="489.24" cy="301.01" r="2.9"/><circle cx="504.55" cy="302.34" r="2.9"/><circle cx="443.31" cy="307.93" r="2.9"/><circle cx="451.3" cy="308.6" r="2.9"/><circle cx="457.29" cy="309.26" r="2.9"/><circle cx="455.56" cy="314.59" r="2.9"/><circle cx="435.59" cy="310.6" r="2.9"/><circle cx="467.94" cy="307" r="2.9"/><circle cx="473.66" cy="306.2" r="2.9"/><circle cx="477.26" cy="311.53" r="2.9"/><circle cx="477.92" cy="316.59" r="2.9"/><circle cx="488.31" cy="307.67" r="2.9"/><circle cx="507.88" cy="313.26" r="2.9"/><circle cx="510.54" cy="315.26" r="2.9"/><circle cx="505.88" cy="317.92" r="2.9"/><circle cx="504.29" cy="321.25" r="2.9"/><circle cx="515.87" cy="308.6" r="2.9"/><circle cx="464.61" cy="320.58" r="2.9"/><circle cx="489.64" cy="323.51" r="2.9"/><circle cx="493.23" cy="327.24" r="2.9"/><circle cx="505.88" cy="324.57" r="2.9"/><circle cx="449.3" cy="327.9" r="2.9"/><circle cx="455.29" cy="328.57" r="2.9"/><circle cx="462.61" cy="328.57" r="2.9"/><circle cx="495.23" cy="328.57" r="2.9"/><circle cx="515.2" cy="326.57" r="2.9"/><circle cx="524.25" cy="277.71" r="2.9"/><circle cx="523.32" cy="282.64" r="2.9"/><circle cx="521.59" cy="286.63" r="2.9"/><circle cx="521.99" cy="293.69" r="2.9"/><circle cx="522.92" cy="300.61" r="2.9"/><circle cx="530.38" cy="297.68" r="2.9"/><circle cx="534.64" cy="275.31" r="2.9"/><circle cx="537.3" cy="292.89" r="2.9"/><circle cx="541.96" cy="289.96" r="2.9"/><circle cx="545.56" cy="285.3" r="2.9"/><circle cx="549.55" cy="288.63" r="2.9"/><circle cx="555.68" cy="289.03" r="2.9"/><circle cx="551.95" cy="294.62" r="2.9"/><circle cx="555.94" cy="275.31" r="2.9"/><circle cx="557.27" cy="278.64" r="2.9"/><circle cx="560.6" cy="279.97" r="2.9"/><circle cx="563.93" cy="277.98" r="2.9"/><circle cx="565.26" cy="283.04" r="2.9"/><circle cx="565.93" cy="291.96" r="2.9"/><circle cx="566.33" cy="294.22" r="2.9"/><circle cx="577.64" cy="281.7" r="2.9"/><circle cx="581.64" cy="280.64" r="2.9"/><circle cx="582.84" cy="272.92" r="2.9"/><circle cx="586.56" cy="274.65" r="2.9"/><circle cx="590.29" cy="273.32" r="2.9"/><circle cx="589.89" cy="279.31" r="2.9"/><circle cx="599.21" cy="273.72" r="2.9"/><circle cx="600.14" cy="283.97" r="2.9"/><circle cx="605.47" cy="281.7" r="2.9"/><circle cx="588.96" cy="290.23" r="2.9"/><circle cx="591.62" cy="289.29" r="2.9"/><circle cx="537.97" cy="302.61" r="2.9"/><circle cx="539.3" cy="310.2" r="2.9"/><circle cx="540.63" cy="316.32" r="2.9"/><circle cx="538.63" cy="319.92" r="2.9"/><circle cx="540.36" cy="323.51" r="2.9"/><circle cx="533.04" cy="322.58" r="2.9"/><circle cx="551.28" cy="318.58" r="2.9"/><circle cx="549.28" cy="324.57" r="2.9"/><circle cx="552.61" cy="305.94" r="2.9"/><circle cx="557.94" cy="305.27" r="2.9"/><circle cx="554.61" cy="310.99" r="2.9"/><circle cx="563.26" cy="314.59" r="2.9"/><circle cx="576.98" cy="301.28" r="2.9"/><circle cx="579.24" cy="305.27" r="2.9"/><circle cx="576.98" cy="308.86" r="2.9"/><circle cx="573.25" cy="312.59" r="2.9"/><circle cx="571.65" cy="315.92" r="2.9"/><circle cx="571.92" cy="319.25" r="2.9"/><circle cx="579.91" cy="313.92" r="2.9"/><circle cx="581.24" cy="319.25" r="2.9"/><circle cx="585.5" cy="315.52" r="2.9"/><circle cx="583.9" cy="322.98" r="2.9"/><circle cx="587.63" cy="299.94" r="2.9"/><circle cx="590.56" cy="301.94" r="2.9"/><circle cx="593.22" cy="304.6" r="2.9"/><circle cx="596.28" cy="299.94" r="2.9"/><circle cx="597.48" cy="306.6" r="2.9"/><circle cx="595.22" cy="309.66" r="2.9"/><circle cx="594.55" cy="320.58" r="2.9"/><circle cx="599.21" cy="321.25" r="2.9"/><circle cx="602.54" cy="322.18" r="2.9"/><circle cx="591.89" cy="324.57" r="2.9"/><circle cx="597.21" cy="325.24" r="2.9"/><circle cx="602.54" cy="325.91" r="2.9"/><circle cx="572.58" cy="328.57" r="2.9"/><circle cx="586.56" cy="328.57" r="2.9"/><circle cx="619.98" cy="272.66" r="2.9"/><circle cx="624.65" cy="271.99" r="2.9"/><circle cx="627.31" cy="272.92" r="2.9"/><circle cx="634.91" cy="271.33" r="2.9"/><circle cx="635.31" cy="274.26" r="2.9"/><circle cx="638.64" cy="277.32" r="2.9"/><circle cx="642.9" cy="276.65" r="2.9"/><circle cx="646.63" cy="274.66" r="2.9"/><circle cx="651.96" cy="271.99" r="2.9"/><circle cx="657.29" cy="275.99" r="2.9"/><circle cx="671.28" cy="279.32" r="2.9"/><circle cx="609.06" cy="279.99" r="2.9"/><circle cx="615.32" cy="280.65" r="2.9"/><circle cx="630.91" cy="279.32" r="2.9"/><circle cx="613.06" cy="291.58" r="2.9"/><circle cx="635.97" cy="285.98" r="2.9"/><circle cx="639.97" cy="283.32" r="2.9"/><circle cx="641.97" cy="285.98" r="2.9"/><circle cx="653.29" cy="283.32" r="2.9"/><circle cx="660.62" cy="284.65" r="2.9"/><circle cx="659.95" cy="287.98" r="2.9"/><circle cx="647.3" cy="291.58" r="2.9"/><circle cx="665.95" cy="288.65" r="2.9"/><circle cx="669.28" cy="287.05" r="2.9"/><circle cx="673.01" cy="286.65" r="2.9"/><circle cx="674.61" cy="288.65" r="2.9"/><circle cx="676.21" cy="293.31" r="2.9"/><circle cx="672.61" cy="296.37" r="2.9"/><circle cx="625.98" cy="291.04" r="2.9"/><circle cx="624.65" cy="293.97" r="2.9"/><circle cx="631.31" cy="291.98" r="2.9"/><circle cx="632.64" cy="294.64" r="2.9"/><circle cx="635.97" cy="296.91" r="2.9"/><circle cx="657.02" cy="295.04" r="2.9"/><circle cx="661.95" cy="297.31" r="2.9"/><circle cx="666.35" cy="295.97" r="2.9"/><circle cx="623.31" cy="299.97" r="2.9"/><circle cx="633.04" cy="303.57" r="2.9"/><circle cx="639.3" cy="301.7" r="2.9"/><circle cx="643.7" cy="301.7" r="2.9"/><circle cx="650.36" cy="301.3" r="2.9"/><circle cx="651.29" cy="303.57" r="2.9"/><circle cx="659.69" cy="303.57" r="2.9"/><circle cx="657.29" cy="305.96" r="2.9"/><circle cx="669.28" cy="301.3" r="2.9"/><circle cx="673.54" cy="305.3" r="2.9"/><circle cx="637.3" cy="307.96" r="2.9"/><circle cx="643.3" cy="307.3" r="2.9"/><circle cx="654.62" cy="308.63" r="2.9"/><circle cx="637.57" cy="311.56" r="2.9"/><circle cx="645.3" cy="312.63" r="2.9"/><circle cx="652.62" cy="313.69" r="2.9"/><circle cx="610.39" cy="309.96" r="2.9"/><circle cx="616.25" cy="309.7" r="2.9"/><circle cx="615.72" cy="311.96" r="2.9"/><circle cx="611.32" cy="318.22" r="2.9"/><circle cx="648.63" cy="319.02" r="2.9"/><circle cx="657.55" cy="317.69" r="2.9"/><circle cx="664.61" cy="317.29" r="2.9"/><circle cx="671.28" cy="313.96" r="2.9"/><circle cx="676.61" cy="311.96" r="2.9"/><circle cx="675.27" cy="316.62" r="2.9"/><circle cx="670.34" cy="321.02" r="2.9"/><circle cx="609.99" cy="323.95" r="2.9"/><circle cx="617.32" cy="325.95" r="2.9"/><circle cx="622.38" cy="326.61" r="2.9"/><circle cx="629.31" cy="327.28" r="2.9"/><circle cx="644.63" cy="324.62" r="2.9"/><circle cx="663.68" cy="323.55" r="2.9"/><circle cx="395.25" cy="335.05" r="2.9"/><circle cx="392.98" cy="339.98" r="2.9"/><circle cx="385.53" cy="340.91" r="2.9"/><circle cx="378.6" cy="342.64" r="2.9"/><circle cx="368.62" cy="339.05" r="2.9"/><circle cx="364.23" cy="341.71" r="2.9"/><circle cx="367.95" cy="348.37" r="2.9"/><circle cx="403.23" cy="343.71" r="2.9"/><circle cx="408.96" cy="349.3" r="2.9"/><circle cx="399.24" cy="350.63" r="2.9"/><circle cx="393.25" cy="354.23" r="2.9"/><circle cx="384.6" cy="356.36" r="2.9"/><circle cx="373.94" cy="360.35" r="2.9"/><circle cx="414.55" cy="335.99" r="2.9"/><circle cx="415.22" cy="337.98" r="2.9"/><circle cx="418.81" cy="334.25" r="2.9"/><circle cx="425.47" cy="352.36" r="2.9"/><circle cx="417.88" cy="360.88" r="2.9"/><circle cx="421.21" cy="365.28" r="2.9"/><circle cx="419.61" cy="368.6" r="2.9"/><circle cx="395.65" cy="366.87" r="2.9"/><circle cx="386.33" cy="371.93" r="2.9"/><circle cx="389.26" cy="372.86" r="2.9"/><circle cx="392.58" cy="373.66" r="2.9"/><circle cx="381" cy="376.33" r="2.9"/><circle cx="369.02" cy="376.86" r="2.9"/><circle cx="412.55" cy="375.53" r="2.9"/><circle cx="423.87" cy="378.99" r="2.9"/><circle cx="373.94" cy="381.92" r="2.9"/><circle cx="367.29" cy="383.92" r="2.9"/><circle cx="375.68" cy="385.91" r="2.9"/><circle cx="398.31" cy="384.31" r="2.9"/><circle cx="391.92" cy="387.51" r="2.9"/><circle cx="379.94" cy="389.91" r="2.9"/><circle cx="369.95" cy="389.24" r="2.9"/><circle cx="387.26" cy="391.9" r="2.9"/><circle cx="409.89" cy="391.24" r="2.9"/><circle cx="412.55" cy="389.91" r="2.9"/><circle cx="438.65" cy="331.33" r="2.9"/><circle cx="433.72" cy="335.05" r="2.9"/><circle cx="437.72" cy="334.25" r="2.9"/><circle cx="449.3" cy="336.92" r="2.9"/><circle cx="457.95" cy="337.72" r="2.9"/><circle cx="461.95" cy="338.65" r="2.9"/><circle cx="467.94" cy="338.38" r="2.9"/><circle cx="437.32" cy="342.64" r="2.9"/><circle cx="434.65" cy="345.31" r="2.9"/><circle cx="439.31" cy="343.31" r="2.9"/><circle cx="453.29" cy="346.64" r="2.9"/><circle cx="450.63" cy="351.03" r="2.9"/><circle cx="471.27" cy="343.97" r="2.9"/><circle cx="472.86" cy="347.97" r="2.9"/><circle cx="479.92" cy="341.71" r="2.9"/><circle cx="483.92" cy="337.98" r="2.9"/><circle cx="487.51" cy="342.91" r="2.9"/><circle cx="494.17" cy="338.65" r="2.9"/><circle cx="496.83" cy="337.32" r="2.9"/><circle cx="499.89" cy="342.24" r="2.9"/><circle cx="503.22" cy="345.97" r="2.9"/><circle cx="505.88" cy="346.64" r="2.9"/><circle cx="512.54" cy="332.66" r="2.9"/><circle cx="513.21" cy="335.32" r="2.9"/><circle cx="512.27" cy="343.04" r="2.9"/><circle cx="508.55" cy="351.03" r="2.9"/><circle cx="492.3" cy="349.96" r="2.9"/><circle cx="496.3" cy="351.96" r="2.9"/><circle cx="497.89" cy="354.62" r="2.9"/><circle cx="428" cy="351.96" r="2.9"/><circle cx="431.59" cy="358.22" r="2.9"/><circle cx="442.64" cy="359.02" r="2.9"/><circle cx="427.07" cy="364.34" r="2.9"/><circle cx="466.61" cy="351.03" r="2.9"/><circle cx="465.28" cy="354.62" r="2.9"/><circle cx="460.35" cy="356.89" r="2.9"/><circle cx="457.69" cy="359.95" r="2.9"/><circle cx="469.27" cy="359.02" r="2.9"/><circle cx="480.85" cy="352.63" r="2.9"/><circle cx="486.98" cy="355.56" r="2.9"/><circle cx="493.23" cy="359.28" r="2.9"/><circle cx="494.17" cy="361.68" r="2.9"/><circle cx="454.62" cy="363.54" r="2.9"/><circle cx="456.36" cy="365.68" r="2.9"/><circle cx="463.94" cy="365.94" r="2.9"/><circle cx="491.5" cy="367.27" r="2.9"/><circle cx="500.56" cy="362.61" r="2.9"/><circle cx="503.22" cy="364.61" r="2.9"/><circle cx="505.88" cy="363.01" r="2.9"/><circle cx="511.21" cy="362.61" r="2.9"/><circle cx="513.87" cy="360.62" r="2.9"/><circle cx="514.94" cy="365.94" r="2.9"/><circle cx="498.96" cy="371" r="2.9"/><circle cx="507.21" cy="368.6" r="2.9"/><circle cx="459.28" cy="372.33" r="2.9"/><circle cx="469.94" cy="371.27" r="2.9"/><circle cx="431.99" cy="376.33" r="2.9"/><circle cx="429.99" cy="378.19" r="2.9"/><circle cx="453.29" cy="377.26" r="2.9"/><circle cx="453.96" cy="380.59" r="2.9"/><circle cx="439.31" cy="379.92" r="2.9"/><circle cx="440.38" cy="382.58" r="2.9"/><circle cx="471.93" cy="378.59" r="2.9"/><circle cx="465.94" cy="383.25" r="2.9"/><circle cx="489.64" cy="382.58" r="2.9"/><circle cx="499.89" cy="379.92" r="2.9"/><circle cx="506.55" cy="375.93" r="2.9"/><circle cx="509.21" cy="379.26" r="2.9"/><circle cx="513.21" cy="382.58" r="2.9"/><circle cx="440.91" cy="386.98" r="2.9"/><circle cx="451.96" cy="386.98" r="2.9"/><circle cx="461.28" cy="387.91" r="2.9"/><circle cx="469.27" cy="391.24" r="2.9"/><circle cx="473.26" cy="389.91" r="2.9"/><circle cx="480.32" cy="389.91" r="2.9"/><circle cx="484.58" cy="388.31" r="2.9"/><circle cx="446.64" cy="392.3" r="2.9"/><circle cx="513.87" cy="388.57" r="2.9"/><circle cx="535.31" cy="331.99" r="2.9"/><circle cx="543.29" cy="332.66" r="2.9"/><circle cx="550.35" cy="331.59" r="2.9"/><circle cx="535.7" cy="337.32" r="2.9"/><circle cx="541.56" cy="339.58" r="2.9"/><circle cx="572.58" cy="330.66" r="2.9"/><circle cx="570.59" cy="334.65" r="2.9"/><circle cx="573.92" cy="335.59" r="2.9"/><circle cx="573.52" cy="339.98" r="2.9"/><circle cx="561" cy="339.31" r="2.9"/><circle cx="566.86" cy="340.38" r="2.9"/><circle cx="593.22" cy="333.32" r="2.9"/><circle cx="593.89" cy="335.59" r="2.9"/><circle cx="601.21" cy="332.66" r="2.9"/><circle cx="603.87" cy="335.32" r="2.9"/><circle cx="599.61" cy="343.97" r="2.9"/><circle cx="603.21" cy="346.64" r="2.9"/><circle cx="517.33" cy="346.64" r="2.9"/><circle cx="529.31" cy="349.3" r="2.9"/><circle cx="545.02" cy="345.7" r="2.9"/><circle cx="545.96" cy="348.63" r="2.9"/><circle cx="544.62" cy="351.96" r="2.9"/><circle cx="538.9" cy="354.23" r="2.9"/><circle cx="577.51" cy="345.97" r="2.9"/><circle cx="584.57" cy="347.3" r="2.9"/><circle cx="561.27" cy="352.63" r="2.9"/><circle cx="567.92" cy="353.29" r="2.9"/><circle cx="574.31" cy="355.96" r="2.9"/><circle cx="576.18" cy="357.29" r="2.9"/><circle cx="555.68" cy="357.29" r="2.9"/><circle cx="559.67" cy="359.02" r="2.9"/><circle cx="518" cy="353.96" r="2.9"/><circle cx="519.99" cy="355.96" r="2.9"/><circle cx="519.73" cy="365.28" r="2.9"/><circle cx="519.99" cy="367.54" r="2.9"/><circle cx="526.92" cy="363.01" r="2.9"/><circle cx="536.64" cy="360.88" r="2.9"/><circle cx="539.96" cy="364.61" r="2.9"/><circle cx="542.63" cy="362.61" r="2.9"/><circle cx="543.29" cy="369.27" r="2.9"/><circle cx="547.29" cy="368.6" r="2.9"/><circle cx="550.88" cy="370.2" r="2.9"/><circle cx="554.34" cy="367.94" r="2.9"/><circle cx="561.93" cy="367.01" r="2.9"/><circle cx="533.97" cy="369.27" r="2.9"/><circle cx="536.64" cy="372.6" r="2.9"/><circle cx="525.99" cy="371.27" r="2.9"/><circle cx="527.32" cy="375.26" r="2.9"/><circle cx="531.98" cy="377.26" r="2.9"/><circle cx="551.68" cy="376.59" r="2.9"/><circle cx="560.6" cy="377.26" r="2.9"/><circle cx="550.88" cy="381.92" r="2.9"/><circle cx="553.28" cy="383.92" r="2.9"/><circle cx="567.26" cy="380.32" r="2.9"/><circle cx="562.6" cy="385.91" r="2.9"/><circle cx="566.33" cy="386.98" r="2.9"/><circle cx="569.26" cy="384.58" r="2.9"/><circle cx="571.25" cy="387.24" r="2.9"/><circle cx="563.93" cy="389.64" r="2.9"/><circle cx="561.93" cy="391.9" r="2.9"/><circle cx="521.33" cy="387.51" r="2.9"/><circle cx="532.64" cy="392.3" r="2.9"/><circle cx="584.97" cy="355.96" r="2.9"/><circle cx="585.23" cy="358.62" r="2.9"/><circle cx="583.9" cy="361.95" r="2.9"/><circle cx="588.96" cy="360.62" r="2.9"/><circle cx="594.29" cy="364.61" r="2.9"/><circle cx="601.21" cy="361.28" r="2.9"/><circle cx="603.87" cy="353.96" r="2.9"/><circle cx="586.56" cy="373.26" r="2.9"/><circle cx="591.22" cy="375.93" r="2.9"/><circle cx="595.22" cy="371.93" r="2.9"/><circle cx="582.3" cy="377.92" r="2.9"/><circle cx="598.81" cy="379.26" r="2.9"/><circle cx="592.55" cy="384.58" r="2.9"/><circle cx="597.48" cy="385.91" r="2.9"/><circle cx="604.54" cy="385.91" r="2.9"/><circle cx="596.55" cy="391.9" r="2.9"/><circle cx="629.98" cy="331.33" r="2.9"/><circle cx="611.99" cy="335.99" r="2.9"/><circle cx="609.59" cy="342.25" r="2.9"/><circle cx="616.65" cy="341.72" r="2.9"/><circle cx="617.99" cy="343.32" r="2.9"/><circle cx="622.65" cy="341.32" r="2.9"/><circle cx="643.96" cy="332" r="2.9"/><circle cx="647.3" cy="330.26" r="2.9"/><circle cx="659.29" cy="329.33" r="2.9"/><circle cx="662.62" cy="331.06" r="2.9"/><circle cx="667.95" cy="327.6" r="2.9"/><circle cx="665.28" cy="335.59" r="2.9"/><circle cx="670.34" cy="336.92" r="2.9"/><circle cx="676.21" cy="332.93" r="2.9"/><circle cx="675.27" cy="343.99" r="2.9"/><circle cx="660.62" cy="344.65" r="2.9"/><circle cx="667.28" cy="348.92" r="2.9"/><circle cx="614.65" cy="349.71" r="2.9"/><circle cx="618.65" cy="350.65" r="2.9"/><circle cx="628.24" cy="349.71" r="2.9"/><circle cx="634.37" cy="351.31" r="2.9"/><circle cx="629.31" cy="354.64" r="2.9"/><circle cx="625.98" cy="357.97" r="2.9"/><circle cx="618.65" cy="357.97" r="2.9"/><circle cx="607.33" cy="353.31" r="2.9"/><circle cx="612.66" cy="364.37" r="2.9"/><circle cx="656.62" cy="356.64" r="2.9"/><circle cx="650.89" cy="361.7" r="2.9"/><circle cx="638.9" cy="365.97" r="2.9"/><circle cx="673.27" cy="361.97" r="2.9"/><circle cx="621.98" cy="368.63" r="2.9"/><circle cx="624.25" cy="367.57" r="2.9"/><circle cx="649.56" cy="369.96" r="2.9"/><circle cx="642.37" cy="373.3" r="2.9"/><circle cx="611.32" cy="371.3" r="2.9"/><circle cx="608.66" cy="373.96" r="2.9"/><circle cx="612.66" cy="375.03" r="2.9"/><circle cx="662.88" cy="375.29" r="2.9"/><circle cx="636.64" cy="378.22" r="2.9"/><circle cx="639.97" cy="380.62" r="2.9"/><circle cx="641.03" cy="383.02" r="2.9"/><circle cx="633.97" cy="383.55" r="2.9"/><circle cx="614.39" cy="380.62" r="2.9"/><circle cx="606" cy="384.62" r="2.9"/><circle cx="669.54" cy="380.62" r="2.9"/><circle cx="667.95" cy="386.22" r="2.9"/><circle cx="627.98" cy="388.62" r="2.9"/><circle cx="649.29" cy="391.28" r="2.9"/><circle cx="654.89" cy="391.28" r="2.9"/><circle cx="361.3" cy="394.66" r="2.9"/><circle cx="365.96" cy="393.33" r="2.9"/><circle cx="382.6" cy="395.06" r="2.9"/><circle cx="394.58" cy="395.06" r="2.9"/><circle cx="396.58" cy="396.39" r="2.9"/><circle cx="412.95" cy="396.66" r="2.9"/><circle cx="417.21" cy="399.59" r="2.9"/><circle cx="424.54" cy="393.73" r="2.9"/><circle cx="375.28" cy="397.99" r="2.9"/><circle cx="380.6" cy="399.05" r="2.9"/><circle cx="355.97" cy="403.98" r="2.9"/><circle cx="358.9" cy="403.98" r="2.9"/><circle cx="369.95" cy="403.31" r="2.9"/><circle cx="378.34" cy="407.04" r="2.9"/><circle cx="387.26" cy="408.37" r="2.9"/><circle cx="385.93" cy="410.64" r="2.9"/><circle cx="365.02" cy="409.7" r="2.9"/><circle cx="375.94" cy="411.97" r="2.9"/><circle cx="371.68" cy="413.96" r="2.9"/><circle cx="356.64" cy="414.23" r="2.9"/><circle cx="363.96" cy="415.56" r="2.9"/><circle cx="371.28" cy="418.62" r="2.9"/><circle cx="357.3" cy="420.36" r="2.9"/><circle cx="361.96" cy="422.62" r="2.9"/><circle cx="376.61" cy="421.29" r="2.9"/><circle cx="379.27" cy="426.21" r="2.9"/><circle cx="384.99" cy="421.69" r="2.9"/><circle cx="390.59" cy="420.89" r="2.9"/><circle cx="401.5" cy="408.37" r="2.9"/><circle cx="404.57" cy="406.24" r="2.9"/><circle cx="410.29" cy="405.71" r="2.9"/><circle cx="409.89" cy="415.96" r="2.9"/><circle cx="413.49" cy="421.95" r="2.9"/><circle cx="419.21" cy="409.97" r="2.9"/><circle cx="422.54" cy="405.98" r="2.9"/><circle cx="423.87" cy="413.96" r="2.9"/><circle cx="423.87" cy="416.36" r="2.9"/><circle cx="397.51" cy="424.35" r="2.9"/><circle cx="400.17" cy="422.62" r="2.9"/><circle cx="404.57" cy="423.95" r="2.9"/><circle cx="407.23" cy="426.61" r="2.9"/><circle cx="408.96" cy="428.88" r="2.9"/><circle cx="411.62" cy="429.68" r="2.9"/><circle cx="416.55" cy="429.68" r="2.9"/><circle cx="421.21" cy="427.94" r="2.9"/><circle cx="423.21" cy="425.95" r="2.9"/><circle cx="392.58" cy="431.27" r="2.9"/><circle cx="396.58" cy="434.6" r="2.9"/><circle cx="399.91" cy="432.6" r="2.9"/><circle cx="403.23" cy="430.61" r="2.9"/><circle cx="402.57" cy="437.26" r="2.9"/><circle cx="400.57" cy="440.33" r="2.9"/><circle cx="421.21" cy="432.6" r="2.9"/><circle cx="419.61" cy="436.33" r="2.9"/><circle cx="415.62" cy="441.26" r="2.9"/><circle cx="355.31" cy="433.94" r="2.9"/><circle cx="363.29" cy="432.34" r="2.9"/><circle cx="368.62" cy="431.27" r="2.9"/><circle cx="373.28" cy="432.34" r="2.9"/><circle cx="381.93" cy="432.6" r="2.9"/><circle cx="383.93" cy="436.6" r="2.9"/><circle cx="383.26" cy="440.33" r="2.9"/><circle cx="353.31" cy="439.93" r="2.9"/><circle cx="357.3" cy="437.93" r="2.9"/><circle cx="361.3" cy="439.93" r="2.9"/><circle cx="365.96" cy="440.33" r="2.9"/><circle cx="372.61" cy="438.6" r="2.9"/><circle cx="375.94" cy="437.93" r="2.9"/><circle cx="373.94" cy="442.59" r="2.9"/><circle cx="377.94" cy="442.59" r="2.9"/><circle cx="366.36" cy="443.92" r="2.9"/><circle cx="361.96" cy="444.59" r="2.9"/><circle cx="355.97" cy="443.26" r="2.9"/><circle cx="352.64" cy="444.59" r="2.9"/><circle cx="353.31" cy="446.58" r="2.9"/><circle cx="360.63" cy="447.92" r="2.9"/><circle cx="383.26" cy="446.58" r="2.9"/><circle cx="511" cy="391.5" r="2.9"/><circle cx="434.25" cy="399.99" r="2.9"/><circle cx="429.99" cy="403.98" r="2.9"/><circle cx="453.96" cy="396.92" r="2.9"/><circle cx="459.95" cy="395.33" r="2.9"/><circle cx="471" cy="397.72" r="2.9"/><circle cx="507.48" cy="398.25" r="2.9"/><circle cx="452.63" cy="402.25" r="2.9"/><circle cx="448.37" cy="406.64" r="2.9"/><circle cx="490.17" cy="407.04" r="2.9"/><circle cx="499.89" cy="407.97" r="2.9"/><circle cx="502.15" cy="406.64" r="2.9"/><circle cx="431.99" cy="409.97" r="2.9"/><circle cx="436.65" cy="411.3" r="2.9"/><circle cx="445.7" cy="412.63" r="2.9"/><circle cx="456.36" cy="410.64" r="2.9"/><circle cx="459.28" cy="411.04" r="2.9"/><circle cx="463.54" cy="413.7" r="2.9"/><circle cx="474.6" cy="412.37" r="2.9"/><circle cx="481.92" cy="412.9" r="2.9"/><circle cx="445.97" cy="417.96" r="2.9"/><circle cx="475.93" cy="417.96" r="2.9"/><circle cx="478.59" cy="420.62" r="2.9"/><circle cx="486.58" cy="419.56" r="2.9"/><circle cx="429.73" cy="419.29" r="2.9"/><circle cx="435.99" cy="421.29" r="2.9"/><circle cx="447.3" cy="422.62" r="2.9"/><circle cx="441.71" cy="425.28" r="2.9"/><circle cx="450.23" cy="427.54" r="2.9"/><circle cx="461.68" cy="424.88" r="2.9"/><circle cx="470.6" cy="423.55" r="2.9"/><circle cx="428.4" cy="428.61" r="2.9"/><circle cx="480.59" cy="427.28" r="2.9"/><circle cx="478.59" cy="429.94" r="2.9"/><circle cx="483.52" cy="430.21" r="2.9"/><circle cx="443.04" cy="431.54" r="2.9"/><circle cx="457.95" cy="430.61" r="2.9"/><circle cx="451.96" cy="434.6" r="2.9"/><circle cx="466.61" cy="433.94" r="2.9"/><circle cx="469.27" cy="435.93" r="2.9"/><circle cx="467.54" cy="437.26" r="2.9"/><circle cx="484.58" cy="435.27" r="2.9"/><circle cx="490.97" cy="435" r="2.9"/><circle cx="487.51" cy="438.6" r="2.9"/><circle cx="443.97" cy="439.53" r="2.9"/><circle cx="449.7" cy="438.6" r="2.9"/><circle cx="429.33" cy="444.59" r="2.9"/><circle cx="433.32" cy="444.59" r="2.9"/><circle cx="437.32" cy="446.98" r="2.9"/><circle cx="440.91" cy="447.52" r="2.9"/><circle cx="475.53" cy="445.25" r="2.9"/><circle cx="604.54" cy="395.59" r="2.9"/><circle cx="527.72" cy="395.99" r="2.9"/><circle cx="518.66" cy="399.59" r="2.9"/><circle cx="526.38" cy="400.38" r="2.9"/><circle cx="524.65" cy="403.31" r="2.9"/><circle cx="546.36" cy="397.72" r="2.9"/><circle cx="549.02" cy="396.39" r="2.9"/><circle cx="541.3" cy="401.32" r="2.9"/><circle cx="530.91" cy="408.91" r="2.9"/><circle cx="522.39" cy="410.24" r="2.9"/><circle cx="543.69" cy="408.91" r="2.9"/><circle cx="547.95" cy="408.37" r="2.9"/><circle cx="557.27" cy="404.65" r="2.9"/><circle cx="559.27" cy="407.97" r="2.9"/><circle cx="564.2" cy="403.05" r="2.9"/><circle cx="565.93" cy="405.31" r="2.9"/><circle cx="570.59" cy="402.65" r="2.9"/><circle cx="573.92" cy="400.38" r="2.9"/><circle cx="578.31" cy="401.32" r="2.9"/><circle cx="575.65" cy="405.31" r="2.9"/><circle cx="582.57" cy="407.31" r="2.9"/><circle cx="575.65" cy="411.57" r="2.9"/><circle cx="569.52" cy="415.03" r="2.9"/><circle cx="558.6" cy="414.63" r="2.9"/><circle cx="557.94" cy="416.89" r="2.9"/><circle cx="528.65" cy="415.56" r="2.9"/><circle cx="533.97" cy="416.63" r="2.9"/><circle cx="579.91" cy="419.96" r="2.9"/><circle cx="578.84" cy="421.69" r="2.9"/><circle cx="553.54" cy="423.55" r="2.9"/><circle cx="547.95" cy="425.95" r="2.9"/><circle cx="520.66" cy="425.28" r="2.9"/><circle cx="528.65" cy="424.62" r="2.9"/><circle cx="531.71" cy="426.61" r="2.9"/><circle cx="536.64" cy="427.01" r="2.9"/><circle cx="523.72" cy="432.87" r="2.9"/><circle cx="531.71" cy="433.27" r="2.9"/><circle cx="525.32" cy="443.26" r="2.9"/><circle cx="525.59" cy="445.92" r="2.9"/><circle cx="529.58" cy="441.66" r="2.9"/><circle cx="568.99" cy="445.92" r="2.9"/><circle cx="619.32" cy="395.33" r="2.9"/><circle cx="621.32" cy="399.33" r="2.9"/><circle cx="607.73" cy="401.32" r="2.9"/><circle cx="613.59" cy="402.26" r="2.9"/><circle cx="617.99" cy="401.99" r="2.9"/><circle cx="631.71" cy="394.26" r="2.9"/><circle cx="661.28" cy="394.66" r="2.9"/><circle cx="667.28" cy="398.66" r="2.9"/><circle cx="658.35" cy="400.39" r="2.9"/><circle cx="645.03" cy="402.66" r="2.9"/><circle cx="663.68" cy="403.06" r="2.9"/><circle cx="664.61" cy="406.65" r="2.9"/><circle cx="619.72" cy="412.38" r="2.9"/><circle cx="622.92" cy="418.24" r="2.9"/><circle cx="627.31" cy="415.31" r="2.9"/><circle cx="630.38" cy="417.71" r="2.9"/><circle cx="633.57" cy="413.98" r="2.9"/><circle cx="637.97" cy="413.71" r="2.9"/><circle cx="641.03" cy="417.31" r="2.9"/><circle cx="648.23" cy="418.64" r="2.9"/><circle cx="651.69" cy="411.58" r="2.9"/><circle cx="654.62" cy="416.91" r="2.9"/><circle cx="671.94" cy="419.04" r="2.9"/><circle cx="653.56" cy="425.7" r="2.9"/><circle cx="653.96" cy="429.3" r="2.9"/><circle cx="620.65" cy="436.63" r="2.9"/><circle cx="645.96" cy="443.96" r="2.9"/><circle cx="624.25" cy="447.02" r="2.9"/></g>
<g stroke="#b0b0b0" stroke-opacity="0.45" stroke-width="1"><line x1="64.4" y1="13.5" x2="64.4" y2="212.3"/><line x1="111.67" y1="13.5" x2="111.67" y2="212.3"/><line x1="158.95" y1="13.5" x2="158.95" y2="212.3"/><line x1="206.22" y1="13.5" x2="206.22" y2="212.3"/><line x1="253.5" y1="13.5" x2="253.5" y2="212.3"/><line x1="26.2" y1="206.3" x2="293.4" y2="206.3"/><line x1="26.2" y1="173.3" x2="293.4" y2="173.3"/><line x1="26.2" y1="140.3" x2="293.4" y2="140.3"/><line x1="26.2" y1="107.3" x2="293.4" y2="107.3"/><line x1="26.2" y1="74.3" x2="293.4" y2="74.3"/><line x1="26.2" y1="41.3" x2="293.4" y2="41.3"/></g>
<g stroke="#b0b0b0" stroke-opacity="0.45" stroke-width="1"><line x1="33.7" y1="264.3" x2="33.7" y2="460.7"/><line x1="73.65" y1="264.3" x2="73.65" y2="460.7"/><line x1="113.6" y1="264.3" x2="113.6" y2="460.7"/><line x1="153.55" y1="264.3" x2="153.55" y2="460.7"/><line x1="193.5" y1="264.3" x2="193.5" y2="460.7"/><line x1="233.45" y1="264.3" x2="233.45" y2="460.7"/><line x1="273.4" y1="264.3" x2="273.4" y2="460.7"/><line x1="30.4" y1="453.7" x2="294.3" y2="453.7"/><line x1="30.4" y1="424.67" x2="294.3" y2="424.67"/><line x1="30.4" y1="395.63" x2="294.3" y2="395.63"/><line x1="30.4" y1="366.6" x2="294.3" y2="366.6"/><line x1="30.4" y1="337.56" x2="294.3" y2="337.56"/><line x1="30.4" y1="308.53" x2="294.3" y2="308.53"/><line x1="30.4" y1="279.5" x2="294.3" y2="279.5"/></g>
<g stroke="#b0b0b0" stroke-opacity="0.45" stroke-width="1"><line x1="346.5" y1="11.9" x2="346.5" y2="210.5"/><line x1="407.65" y1="11.9" x2="407.65" y2="210.5"/><line x1="468.8" y1="11.9" x2="468.8" y2="210.5"/><line x1="529.95" y1="11.9" x2="529.95" y2="210.5"/><line x1="591.1" y1="11.9" x2="591.1" y2="210.5"/><line x1="652.25" y1="11.9" x2="652.25" y2="210.5"/><line x1="331.5" y1="202.35" x2="690" y2="202.35"/><line x1="331.5" y1="168.97" x2="690" y2="168.97"/><line x1="331.5" y1="135.59" x2="690" y2="135.59"/><line x1="331.5" y1="102.21" x2="690" y2="102.21"/><line x1="331.5" y1="68.83" x2="690" y2="68.83"/><line x1="331.5" y1="35.45" x2="690" y2="35.45"/></g>
<g stroke="#b0b0b0" stroke-opacity="0.45" stroke-width="1"><line x1="352.1" y1="262.4" x2="352.1" y2="457"/><line x1="397.99" y1="262.4" x2="397.99" y2="457"/><line x1="443.87" y1="262.4" x2="443.87" y2="457"/><line x1="489.76" y1="262.4" x2="489.76" y2="457"/><line x1="535.64" y1="262.4" x2="535.64" y2="457"/><line x1="581.53" y1="262.4" x2="581.53" y2="457"/><line x1="627.42" y1="262.4" x2="627.42" y2="457"/><line x1="673.3" y1="262.4" x2="673.3" y2="457"/><line x1="336.45" y1="448.5" x2="690" y2="448.5"/><line x1="336.45" y1="423.47" x2="690" y2="423.47"/><line x1="336.45" y1="398.44" x2="690" y2="398.44"/><line x1="336.45" y1="373.41" x2="690" y2="373.41"/><line x1="336.45" y1="348.38" x2="690" y2="348.38"/><line x1="336.45" y1="323.36" x2="690" y2="323.36"/><line x1="336.45" y1="298.33" x2="690" y2="298.33"/><line x1="336.45" y1="273.3" x2="690" y2="273.3"/></g>
<line x1="346.5" y1="169.5" x2="679.4" y2="53.27" stroke="#0000dd" stroke-width="1.5"/>
<line x1="352.1" y1="393.31" x2="676.61" y2="326.31" stroke="#0000dd" stroke-width="1.5"/>
<line x1="38.16" y1="191.62" x2="280.45" y2="22.49" stroke="#dc4b3c" stroke-width="1.05" stroke-dasharray="3.3 1.5"/>
<line x1="42.49" y1="447.31" x2="281.79" y2="273.4" stroke="#dc4b3c" stroke-width="1.05" stroke-dasharray="3.3 1.5"/>
<line x1="26.2" y1="13.5" x2="26.2" y2="212.3" stroke="#5e5e5e" stroke-width="1.15"/>
<line x1="25.62" y1="212.3" x2="293.4" y2="212.3" stroke="#5e5e5e" stroke-width="1.15"/>
<line x1="26.2" y1="13.5" x2="293.4" y2="13.5" stroke="#5a5a5a" stroke-width="1.15"/>
<line x1="293.4" y1="13.5" x2="293.4" y2="212.88" stroke="#5a5a5a" stroke-width="1.15"/>
<line x1="64.4" y1="212.3" x2="64.4" y2="214.3" stroke="#555" stroke-width="0.8"/>
<text x="64.4" y="221" font-size="6.3" fill="#262626" text-anchor="middle">10</text>
<line x1="111.67" y1="212.3" x2="111.67" y2="214.3" stroke="#555" stroke-width="0.8"/>
<text x="111.67" y="221" font-size="6.3" fill="#262626" text-anchor="middle">20</text>
<line x1="158.95" y1="212.3" x2="158.95" y2="214.3" stroke="#555" stroke-width="0.8"/>
<text x="158.95" y="221" font-size="6.3" fill="#262626" text-anchor="middle">30</text>
<line x1="206.22" y1="212.3" x2="206.22" y2="214.3" stroke="#555" stroke-width="0.8"/>
<text x="206.22" y="221" font-size="6.3" fill="#262626" text-anchor="middle">40</text>
<line x1="253.5" y1="212.3" x2="253.5" y2="214.3" stroke="#555" stroke-width="0.8"/>
<text x="253.5" y="221" font-size="6.3" fill="#262626" text-anchor="middle">50</text>
<line x1="24.2" y1="206.3" x2="26.2" y2="206.3" stroke="#555" stroke-width="0.8"/>
<text x="22.1" y="208.55" font-size="6.3" fill="#262626" text-anchor="end">0</text>
<line x1="24.2" y1="173.3" x2="26.2" y2="173.3" stroke="#555" stroke-width="0.8"/>
<text x="22.1" y="175.55" font-size="6.3" fill="#262626" text-anchor="end">10</text>
<line x1="24.2" y1="140.3" x2="26.2" y2="140.3" stroke="#555" stroke-width="0.8"/>
<text x="22.1" y="142.55" font-size="6.3" fill="#262626" text-anchor="end">20</text>
<line x1="24.2" y1="107.3" x2="26.2" y2="107.3" stroke="#555" stroke-width="0.8"/>
<text x="22.1" y="109.55" font-size="6.3" fill="#262626" text-anchor="end">30</text>
<line x1="24.2" y1="74.3" x2="26.2" y2="74.3" stroke="#555" stroke-width="0.8"/>
<text x="22.1" y="76.55" font-size="6.3" fill="#262626" text-anchor="end">40</text>
<line x1="24.2" y1="41.3" x2="26.2" y2="41.3" stroke="#555" stroke-width="0.8"/>
<text x="22.1" y="43.55" font-size="6.3" fill="#262626" text-anchor="end">50</text>
<line x1="30.4" y1="264.3" x2="30.4" y2="460.7" stroke="#5e5e5e" stroke-width="1.15"/>
<line x1="29.82" y1="460.7" x2="294.3" y2="460.7" stroke="#5e5e5e" stroke-width="1.15"/>
<line x1="30.4" y1="264.3" x2="294.3" y2="264.3" stroke="#5a5a5a" stroke-width="1.15"/>
<line x1="294.3" y1="264.3" x2="294.3" y2="461.27" stroke="#5a5a5a" stroke-width="1.15"/>
<line x1="33.7" y1="460.7" x2="33.7" y2="462.7" stroke="#555" stroke-width="0.8"/>
<text x="33.7" y="469.6" font-size="6.3" fill="#262626" text-anchor="middle">0</text>
<line x1="73.65" y1="460.7" x2="73.65" y2="462.7" stroke="#555" stroke-width="0.8"/>
<text x="73.65" y="469.6" font-size="6.3" fill="#262626" text-anchor="middle">20</text>
<line x1="113.6" y1="460.7" x2="113.6" y2="462.7" stroke="#555" stroke-width="0.8"/>
<text x="113.6" y="469.6" font-size="6.3" fill="#262626" text-anchor="middle">40</text>
<line x1="153.55" y1="460.7" x2="153.55" y2="462.7" stroke="#555" stroke-width="0.8"/>
<text x="153.55" y="469.6" font-size="6.3" fill="#262626" text-anchor="middle">60</text>
<line x1="193.5" y1="460.7" x2="193.5" y2="462.7" stroke="#555" stroke-width="0.8"/>
<text x="193.5" y="469.6" font-size="6.3" fill="#262626" text-anchor="middle">80</text>
<line x1="233.45" y1="460.7" x2="233.45" y2="462.7" stroke="#555" stroke-width="0.8"/>
<text x="233.45" y="469.6" font-size="6.3" fill="#262626" text-anchor="middle">100</text>
<line x1="273.4" y1="460.7" x2="273.4" y2="462.7" stroke="#555" stroke-width="0.8"/>
<text x="273.4" y="469.6" font-size="6.3" fill="#262626" text-anchor="middle">120</text>
<line x1="28.4" y1="453.7" x2="30.4" y2="453.7" stroke="#555" stroke-width="0.8"/>
<text x="25.9" y="455.95" font-size="6.3" fill="#262626" text-anchor="end">0</text>
<line x1="28.4" y1="424.67" x2="30.4" y2="424.67" stroke="#555" stroke-width="0.8"/>
<text x="25.9" y="426.92" font-size="6.3" fill="#262626" text-anchor="end">20</text>
<line x1="28.4" y1="395.63" x2="30.4" y2="395.63" stroke="#555" stroke-width="0.8"/>
<text x="25.9" y="397.88" font-size="6.3" fill="#262626" text-anchor="end">40</text>
<line x1="28.4" y1="366.6" x2="30.4" y2="366.6" stroke="#555" stroke-width="0.8"/>
<text x="25.9" y="368.85" font-size="6.3" fill="#262626" text-anchor="end">60</text>
<line x1="28.4" y1="337.56" x2="30.4" y2="337.56" stroke="#555" stroke-width="0.8"/>
<text x="25.9" y="339.81" font-size="6.3" fill="#262626" text-anchor="end">80</text>
<line x1="28.4" y1="308.53" x2="30.4" y2="308.53" stroke="#555" stroke-width="0.8"/>
<text x="25.9" y="310.78" font-size="6.3" fill="#262626" text-anchor="end">100</text>
<line x1="28.4" y1="279.5" x2="30.4" y2="279.5" stroke="#555" stroke-width="0.8"/>
<text x="25.9" y="281.75" font-size="6.3" fill="#262626" text-anchor="end">120</text>
<line x1="331.5" y1="11.9" x2="331.5" y2="210.5" stroke="#5e5e5e" stroke-width="1.15"/>
<line x1="330.93" y1="210.5" x2="690" y2="210.5" stroke="#5e5e5e" stroke-width="1.15"/>
<line x1="331.5" y1="11.9" x2="690" y2="11.9" stroke="#bcbcbc" stroke-width="1.15"/>
<line x1="346.5" y1="210.5" x2="346.5" y2="212.5" stroke="#555" stroke-width="0.8"/>
<text x="346.5" y="219" font-size="6.3" fill="#262626" text-anchor="middle">0</text>
<line x1="407.65" y1="210.5" x2="407.65" y2="212.5" stroke="#555" stroke-width="0.8"/>
<text x="407.65" y="219" font-size="6.3" fill="#262626" text-anchor="middle">50</text>
<line x1="468.8" y1="210.5" x2="468.8" y2="212.5" stroke="#555" stroke-width="0.8"/>
<text x="468.8" y="219" font-size="6.3" fill="#262626" text-anchor="middle">100</text>
<line x1="529.95" y1="210.5" x2="529.95" y2="212.5" stroke="#555" stroke-width="0.8"/>
<text x="529.95" y="219" font-size="6.3" fill="#262626" text-anchor="middle">150</text>
<line x1="591.1" y1="210.5" x2="591.1" y2="212.5" stroke="#555" stroke-width="0.8"/>
<text x="591.1" y="219" font-size="6.3" fill="#262626" text-anchor="middle">200</text>
<line x1="652.25" y1="210.5" x2="652.25" y2="212.5" stroke="#555" stroke-width="0.8"/>
<text x="652.25" y="219" font-size="6.3" fill="#262626" text-anchor="middle">250</text>
<line x1="329.5" y1="202.35" x2="331.5" y2="202.35" stroke="#555" stroke-width="0.8"/>
<text x="327" y="204.6" font-size="6.3" fill="#262626" text-anchor="end">0</text>
<line x1="329.5" y1="168.97" x2="331.5" y2="168.97" stroke="#555" stroke-width="0.8"/>
<text x="327" y="171.22" font-size="6.3" fill="#262626" text-anchor="end">50</text>
<line x1="329.5" y1="135.59" x2="331.5" y2="135.59" stroke="#555" stroke-width="0.8"/>
<text x="327" y="137.84" font-size="6.3" fill="#262626" text-anchor="end">100</text>
<line x1="329.5" y1="102.21" x2="331.5" y2="102.21" stroke="#555" stroke-width="0.8"/>
<text x="327" y="104.46" font-size="6.3" fill="#262626" text-anchor="end">150</text>
<line x1="329.5" y1="68.83" x2="331.5" y2="68.83" stroke="#555" stroke-width="0.8"/>
<text x="327" y="71.08" font-size="6.3" fill="#262626" text-anchor="end">200</text>
<line x1="329.5" y1="35.45" x2="331.5" y2="35.45" stroke="#555" stroke-width="0.8"/>
<text x="327" y="37.7" font-size="6.3" fill="#262626" text-anchor="end">250</text>
<line x1="336.45" y1="262.4" x2="336.45" y2="457" stroke="#727272" stroke-width="1.15"/>
<line x1="335.88" y1="457" x2="690" y2="457" stroke="#727272" stroke-width="1.15"/>
<line x1="336.45" y1="262.4" x2="690" y2="262.4" stroke="#8a8a8a" stroke-width="1.15"/>
<line x1="352.1" y1="457" x2="352.1" y2="459" stroke="#555" stroke-width="0.8"/>
<text x="352.1" y="465.6" font-size="6.3" fill="#262626" text-anchor="middle">0</text>
<line x1="397.99" y1="457" x2="397.99" y2="459" stroke="#555" stroke-width="0.8"/>
<text x="397.99" y="465.6" font-size="6.3" fill="#262626" text-anchor="middle">100</text>
<line x1="443.87" y1="457" x2="443.87" y2="459" stroke="#555" stroke-width="0.8"/>
<text x="443.87" y="465.6" font-size="6.3" fill="#262626" text-anchor="middle">200</text>
<line x1="489.76" y1="457" x2="489.76" y2="459" stroke="#555" stroke-width="0.8"/>
<text x="489.76" y="465.6" font-size="6.3" fill="#262626" text-anchor="middle">300</text>
<line x1="535.64" y1="457" x2="535.64" y2="459" stroke="#555" stroke-width="0.8"/>
<text x="535.64" y="465.6" font-size="6.3" fill="#262626" text-anchor="middle">400</text>
<line x1="581.53" y1="457" x2="581.53" y2="459" stroke="#555" stroke-width="0.8"/>
<text x="581.53" y="465.6" font-size="6.3" fill="#262626" text-anchor="middle">500</text>
<line x1="627.42" y1="457" x2="627.42" y2="459" stroke="#555" stroke-width="0.8"/>
<text x="627.42" y="465.6" font-size="6.3" fill="#262626" text-anchor="middle">600</text>
<line x1="673.3" y1="457" x2="673.3" y2="459" stroke="#555" stroke-width="0.8"/>
<text x="673.3" y="465.6" font-size="6.3" fill="#262626" text-anchor="middle">700</text>
<line x1="334.45" y1="448.5" x2="336.45" y2="448.5" stroke="#555" stroke-width="0.8"/>
<text x="332.1" y="450.75" font-size="6.3" fill="#262626" text-anchor="end">0</text>
<line x1="334.45" y1="423.47" x2="336.45" y2="423.47" stroke="#555" stroke-width="0.8"/>
<text x="332.1" y="425.72" font-size="6.3" fill="#262626" text-anchor="end">100</text>
<line x1="334.45" y1="398.44" x2="336.45" y2="398.44" stroke="#555" stroke-width="0.8"/>
<text x="332.1" y="400.69" font-size="6.3" fill="#262626" text-anchor="end">200</text>
<line x1="334.45" y1="373.41" x2="336.45" y2="373.41" stroke="#555" stroke-width="0.8"/>
<text x="332.1" y="375.66" font-size="6.3" fill="#262626" text-anchor="end">300</text>
<line x1="334.45" y1="348.38" x2="336.45" y2="348.38" stroke="#555" stroke-width="0.8"/>
<text x="332.1" y="350.63" font-size="6.3" fill="#262626" text-anchor="end">400</text>
<line x1="334.45" y1="323.36" x2="336.45" y2="323.36" stroke="#555" stroke-width="0.8"/>
<text x="332.1" y="325.61" font-size="6.3" fill="#262626" text-anchor="end">500</text>
<line x1="334.45" y1="298.33" x2="336.45" y2="298.33" stroke="#555" stroke-width="0.8"/>
<text x="332.1" y="300.58" font-size="6.3" fill="#262626" text-anchor="end">600</text>
<line x1="334.45" y1="273.3" x2="336.45" y2="273.3" stroke="#555" stroke-width="0.8"/>
<text x="332.1" y="275.55" font-size="6.3" fill="#262626" text-anchor="end">700</text>
<text x="45.53" y="8.8" font-size="10" fill="#262626" textLength="44.26" lengthAdjust="spacingAndGlyphs">EGD-CXR</text>
<text x="93.31" y="8.8" font-size="10" fill="#262626" textLength="36.83" lengthAdjust="spacingAndGlyphs">Pearson</text>
<text x="133.39" y="8.8" font-size="10" fill="#262626" textLength="50.35" lengthAdjust="spacingAndGlyphs">Correlation</text>
<text x="187.29" y="8.8" font-size="10" fill="#262626" textLength="93.12" lengthAdjust="spacingAndGlyphs">0.54(p-value&lt;0.001)</text>
<text x="46.14" y="259" font-size="10" fill="#262626" textLength="43.57" lengthAdjust="spacingAndGlyphs">REFLACX</text>
<text x="92.49" y="259" font-size="10" fill="#262626" textLength="37.56" lengthAdjust="spacingAndGlyphs">Pearson</text>
<text x="132.59" y="259" font-size="10" fill="#262626" textLength="50.35" lengthAdjust="spacingAndGlyphs">Correlation</text>
<text x="186.28" y="259" font-size="10" fill="#262626" textLength="93.32" lengthAdjust="spacingAndGlyphs">0.36(p-value&lt;0.001)</text>
<text x="377.22" y="8.8" font-size="10" fill="#262626" textLength="45.08" lengthAdjust="spacingAndGlyphs">EGD-CXR</text>
<text x="425.01" y="8.8" font-size="10" fill="#262626" textLength="45.11" lengthAdjust="spacingAndGlyphs">Spearman</text>
<text x="473.54" y="8.8" font-size="10" fill="#262626" textLength="22.31" lengthAdjust="spacingAndGlyphs">Rank</text>
<text x="499.59" y="8.8" font-size="10" fill="#262626" textLength="50.35" lengthAdjust="spacingAndGlyphs">Correlation</text>
<text x="553.08" y="8.8" font-size="10" fill="#262626" textLength="93.53" lengthAdjust="spacingAndGlyphs">0.64(p-value&lt;0.001)</text>
<text x="378.35" y="255.3" font-size="10" fill="#262626" textLength="43.26" lengthAdjust="spacingAndGlyphs">REFLACX</text>
<text x="424.4" y="255.3" font-size="10" fill="#262626" textLength="45.73" lengthAdjust="spacingAndGlyphs">Spearman</text>
<text x="473.75" y="255.3" font-size="10" fill="#262626" textLength="22" lengthAdjust="spacingAndGlyphs">Rank</text>
<text x="499.79" y="255.3" font-size="10" fill="#262626" textLength="50.24" lengthAdjust="spacingAndGlyphs">Correlation</text>
<text x="553.39" y="255.3" font-size="10" fill="#262626" textLength="92.72" lengthAdjust="spacingAndGlyphs">0.38(p-value&lt;0.001)</text>
<text x="71.91" y="231.9" font-size="10.2" fill="#262626" textLength="19.67" lengthAdjust="spacingAndGlyphs">True</text>
<text x="94.39" y="231.9" font-size="10.2" fill="#262626" textLength="22.48" lengthAdjust="spacingAndGlyphs">Total</text>
<text x="119.75" y="231.9" font-size="10.2" fill="#262626" textLength="37.2" lengthAdjust="spacingAndGlyphs">Fixation</text>
<text x="160.62" y="231.9" font-size="10.2" fill="#262626" textLength="41.55" lengthAdjust="spacingAndGlyphs">Duration</text>
<text x="205.17" y="231.9" font-size="10.2" fill="#262626" textLength="42.74" lengthAdjust="spacingAndGlyphs">(Second)</text>
<text x="75.41" y="480.3" font-size="10.2" fill="#262626" textLength="19.67" lengthAdjust="spacingAndGlyphs">True</text>
<text x="98.09" y="480.3" font-size="10.2" fill="#262626" textLength="21.96" lengthAdjust="spacingAndGlyphs">Total</text>
<text x="122.55" y="480.3" font-size="10.2" fill="#262626" textLength="37.41" lengthAdjust="spacingAndGlyphs">Fixation</text>
<text x="162.62" y="480.3" font-size="10.2" fill="#262626" textLength="41.44" lengthAdjust="spacingAndGlyphs">Duration</text>
<text x="206.97" y="480.3" font-size="10.2" fill="#262626" textLength="42.84" lengthAdjust="spacingAndGlyphs">(Second)</text>
<text x="433.81" y="228.6" font-size="9.9" fill="#262626" textLength="32.84" lengthAdjust="spacingAndGlyphs">Ground</text>
<text x="469.81" y="228.6" font-size="9.9" fill="#262626" textLength="22.24" lengthAdjust="spacingAndGlyphs">Truth</text>
<text x="494.64" y="228.6" font-size="9.9" fill="#262626" textLength="22.2" lengthAdjust="spacingAndGlyphs">Rank</text>
<text x="519.92" y="228.6" font-size="9.9" fill="#262626" textLength="3.2" lengthAdjust="spacingAndGlyphs">(</text>
<text x="526.23" y="228.6" font-size="9.9" fill="#262626" textLength="21.89" lengthAdjust="spacingAndGlyphs">Case</text>
<text x="550.77" y="228.6" font-size="9.9" fill="#262626" textLength="42.35" lengthAdjust="spacingAndGlyphs">difficulty)</text>
<text x="436.51" y="474.5" font-size="9.9" fill="#262626" textLength="32.53" lengthAdjust="spacingAndGlyphs">Ground</text>
<text x="471.91" y="474.5" font-size="9.9" fill="#262626" textLength="21.93" lengthAdjust="spacingAndGlyphs">Truth</text>
<text x="496.25" y="474.5" font-size="9.9" fill="#262626" textLength="21.89" lengthAdjust="spacingAndGlyphs">Rank</text>
<text x="521.05" y="474.5" font-size="9.9" fill="#262626" textLength="3.07" lengthAdjust="spacingAndGlyphs">(</text>
<text x="527.04" y="474.5" font-size="9.9" fill="#262626" textLength="21.26" lengthAdjust="spacingAndGlyphs">Case</text>
<text x="551.18" y="474.5" font-size="9.9" fill="#262626" textLength="41.53" lengthAdjust="spacingAndGlyphs">difficulty)</text>
<text x="9.9" y="213.55" font-size="10.2" fill="#262626" textLength="45.04" lengthAdjust="spacingAndGlyphs" transform="rotate(-90 9.9 213.55)">Predicted</text>
<text x="9.9" y="166.12" font-size="10.2" fill="#262626" textLength="22.89" lengthAdjust="spacingAndGlyphs" transform="rotate(-90 9.9 166.12)">Total</text>
<text x="9.9" y="140.66" font-size="10.2" fill="#262626" textLength="37.73" lengthAdjust="spacingAndGlyphs" transform="rotate(-90 9.9 140.66)">Fixation</text>
<text x="9.9" y="100.4" font-size="10.2" fill="#262626" textLength="42.38" lengthAdjust="spacingAndGlyphs" transform="rotate(-90 9.9 100.4)">Duration</text>
<text x="9.9" y="55.54" font-size="10.2" fill="#262626" textLength="42.95" lengthAdjust="spacingAndGlyphs" transform="rotate(-90 9.9 55.54)">(Second)</text>
<text x="9.9" y="461.74" font-size="10.2" fill="#262626" textLength="44.52" lengthAdjust="spacingAndGlyphs" transform="rotate(-90 9.9 461.74)">Predicted</text>
<text x="9.9" y="414.91" font-size="10.2" fill="#262626" textLength="22.58" lengthAdjust="spacingAndGlyphs" transform="rotate(-90 9.9 414.91)">Total</text>
<text x="9.9" y="389.75" font-size="10.2" fill="#262626" textLength="37.2" lengthAdjust="spacingAndGlyphs" transform="rotate(-90 9.9 389.75)">Fixation</text>
<text x="9.9" y="349.88" font-size="10.2" fill="#262626" textLength="41.76" lengthAdjust="spacingAndGlyphs" transform="rotate(-90 9.9 349.88)">Duration</text>
<text x="9.9" y="305.73" font-size="10.2" fill="#262626" textLength="42.43" lengthAdjust="spacingAndGlyphs" transform="rotate(-90 9.9 305.73)">(Second)</text>
<text x="312.9" y="182.49" font-size="9.9" fill="#262626" textLength="41.73" lengthAdjust="spacingAndGlyphs" transform="rotate(-90 312.9 182.49)">Predicted</text>
<text x="312.9" y="137.96" font-size="9.9" fill="#262626" textLength="22.1" lengthAdjust="spacingAndGlyphs" transform="rotate(-90 312.9 137.96)">Rank</text>
<text x="312.9" y="112.61" font-size="9.9" fill="#262626" textLength="2.82" lengthAdjust="spacingAndGlyphs" transform="rotate(-90 312.9 112.61)">(</text>
<text x="312.9" y="106.67" font-size="9.9" fill="#262626" textLength="21.99" lengthAdjust="spacingAndGlyphs" transform="rotate(-90 312.9 106.67)">Case</text>
<text x="312.9" y="82.33" font-size="9.9" fill="#262626" textLength="42.35" lengthAdjust="spacingAndGlyphs" transform="rotate(-90 312.9 82.33)">difficulty)</text>
<text x="318" y="429.58" font-size="9.9" fill="#262626" textLength="41" lengthAdjust="spacingAndGlyphs" transform="rotate(-90 318 429.58)">Predicted</text>
<text x="318" y="385.85" font-size="9.9" fill="#262626" textLength="21.79" lengthAdjust="spacingAndGlyphs" transform="rotate(-90 318 385.85)">Rank</text>
<text x="318" y="361.28" font-size="9.9" fill="#262626" textLength="2.69" lengthAdjust="spacingAndGlyphs" transform="rotate(-90 318 361.28)">(</text>
<text x="318" y="355.57" font-size="9.9" fill="#262626" textLength="21.89" lengthAdjust="spacingAndGlyphs" transform="rotate(-90 318 355.57)">Case</text>
<text x="318" y="331.32" font-size="9.9" fill="#262626" textLength="41.32" lengthAdjust="spacingAndGlyphs" transform="rotate(-90 318 331.32)">difficulty)</text>
<rect x="28.9" y="16.5" width="77.1" height="19.8" rx="1.5" fill="#fff" fill-opacity="0.8" stroke="#dcdcdc" stroke-width="0.8"/>
<circle cx="37.3" cy="21.9" r="2.3" fill="#0000ff"/>
<line x1="31.1" y1="30.4" x2="43.7" y2="30.4" stroke="#db4a3b" stroke-width="1" stroke-dasharray="3.2 1.6"/>
<text x="48.05" y="23.7" font-size="6.4" fill="#333" textLength="23.97" lengthAdjust="spacingAndGlyphs">Fixation</text>
<text x="73.24" y="23.7" font-size="6.4" fill="#333" textLength="29.73" lengthAdjust="spacingAndGlyphs">Durations</text>
<text x="48.28" y="33.1" font-size="6.4" fill="#333" textLength="20.57" lengthAdjust="spacingAndGlyphs">Perfect</text>
<text x="70.75" y="33.1" font-size="6.4" fill="#333" textLength="33.87" lengthAdjust="spacingAndGlyphs">Correlation</text>
<rect x="33.5" y="266.1" width="75.5" height="20.3" rx="1.5" fill="#fff" fill-opacity="0.8" stroke="#dcdcdc" stroke-width="0.8"/>
<circle cx="41.5" cy="272.5" r="2.3" fill="#0000ff"/>
<line x1="35.1" y1="280.6" x2="47.8" y2="280.6" stroke="#db4a3b" stroke-width="1" stroke-dasharray="3.2 1.6"/>
<text x="51.56" y="274.7" font-size="6.4" fill="#333" textLength="23.66" lengthAdjust="spacingAndGlyphs">Fixation</text>
<text x="76.34" y="274.7" font-size="6.4" fill="#333" textLength="29.84" lengthAdjust="spacingAndGlyphs">Durations</text>
<text x="51.58" y="283.1" font-size="6.4" fill="#333" textLength="20.47" lengthAdjust="spacingAndGlyphs">Perfect</text>
<text x="73.75" y="283.1" font-size="6.4" fill="#333" textLength="33.87" lengthAdjust="spacingAndGlyphs">Correlation</text>
<text x="0" y="0" font-size="17.3" font-weight="bold" fill="#111" text-anchor="middle" transform="translate(150.15 501.9) scale(0.92 1)">A</text>
<text x="0" y="0" font-size="17.3" font-weight="bold" fill="#111" text-anchor="middle" transform="translate(501.05 502.1) scale(0.87 1)">B</text>
</svg>
</body></html>
